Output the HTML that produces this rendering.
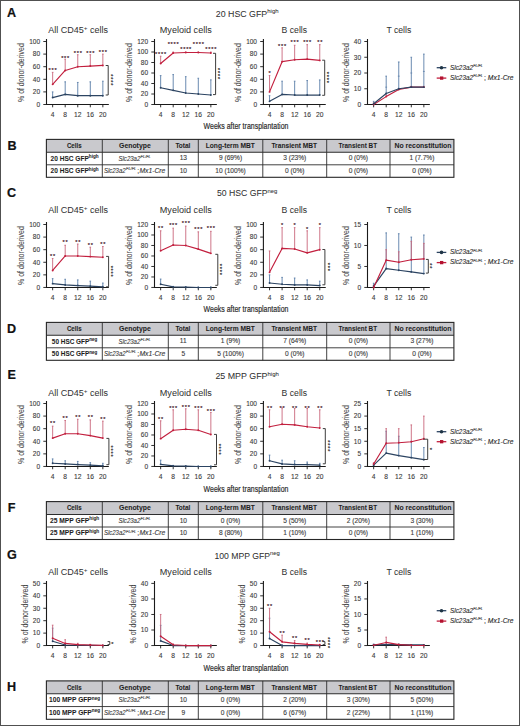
<!DOCTYPE html><html><head><meta charset="utf-8"><style>html,body{margin:0;padding:0;background:#fff;width:520px;height:726px;overflow:hidden;}svg{display:block;}text{font-family:"Liberation Sans",sans-serif;}</style></head><body>
<svg width="520" height="726" viewBox="0 0 520 726">
<rect x="0" y="0" width="520" height="726" fill="#fff"/>
<rect x="0.5" y="0.5" width="519" height="725" fill="none" stroke="#505050" stroke-width="1"/>
<text x="6.9" y="17.1" font-size="12.6" font-weight="bold" fill="#111" stroke="#111" stroke-width="0.2">A</text>
<text x="215.8" y="16.9" font-size="9.1" fill="#303030" stroke="#303030" stroke-width="0.04" textLength="62.8" lengthAdjust="spacingAndGlyphs">20 HSC GFP<tspan font-size="6.2" dy="-3.5">high</tspan></text>
<text x="48.2" y="33" font-size="8.3" fill="#333" stroke="#333" stroke-width="0.03" textLength="59.8" lengthAdjust="spacingAndGlyphs">All CD45<tspan font-size="5.8" dy="-2.7">+</tspan><tspan dy="2.7"> cells</tspan></text>
<text transform="translate(24.15,72.6) rotate(-90)" font-size="8.4" text-anchor="middle" fill="#444" stroke="#444" stroke-width="0.05" textLength="58.8" lengthAdjust="spacingAndGlyphs">% of donor-derived</text>
<path d="M46.5 39.1V104.5H108.85" fill="none" stroke="#1a1a1a" stroke-width="1.1"/>
<text x="40.1" y="106.8" font-size="6.5" text-anchor="end" fill="#3a3a3a" stroke="#3a3a3a" stroke-width="0.1">0</text>
<text x="40.1" y="94.2" font-size="6.5" text-anchor="end" fill="#3a3a3a" stroke="#3a3a3a" stroke-width="0.1">20</text>
<text x="40.1" y="81.6" font-size="6.5" text-anchor="end" fill="#3a3a3a" stroke="#3a3a3a" stroke-width="0.1">40</text>
<text x="40.1" y="69" font-size="6.5" text-anchor="end" fill="#3a3a3a" stroke="#3a3a3a" stroke-width="0.1">60</text>
<text x="40.1" y="56.4" font-size="6.5" text-anchor="end" fill="#3a3a3a" stroke="#3a3a3a" stroke-width="0.1">80</text>
<text x="40.1" y="43.8" font-size="6.5" text-anchor="end" fill="#3a3a3a" stroke="#3a3a3a" stroke-width="0.1">100</text>
<path d="M43.3 104.5H46.5 M43.3 91.9H46.5 M43.3 79.3H46.5 M43.3 66.7H46.5 M43.3 54.1H46.5 M43.3 41.5H46.5 M52.65 104.5v2.8 M65.2 104.5v2.8 M77.75 104.5v2.8 M90.3 104.5v2.8 M102.85 104.5v2.8" stroke="#1a1a1a" stroke-width="0.9" fill="none"/>
<text x="52.65" y="116.6" font-size="6.7" text-anchor="middle" fill="#3a3a3a" stroke="#3a3a3a" stroke-width="0.1">4</text>
<text x="65.2" y="116.6" font-size="6.7" text-anchor="middle" fill="#3a3a3a" stroke="#3a3a3a" stroke-width="0.1">8</text>
<text x="77.75" y="116.6" font-size="6.7" text-anchor="middle" fill="#3a3a3a" stroke="#3a3a3a" stroke-width="0.1">12</text>
<text x="90.3" y="116.6" font-size="6.7" text-anchor="middle" fill="#3a3a3a" stroke="#3a3a3a" stroke-width="0.1">16</text>
<text x="102.85" y="116.6" font-size="6.7" text-anchor="middle" fill="#3a3a3a" stroke="#3a3a3a" stroke-width="0.1">20</text>
<path d="M52.65 97.57V91.9M51.85 91.9h1.6 M65.2 94.42V81.82M64.4 81.82h1.6 M77.75 95.68V82.45M76.95 82.45h1.6 M90.3 95.68V81.82M89.5 81.82h1.6 M102.85 95.68V81.19M102.05 81.19h1.6" stroke="#5a7ea8" stroke-width="0.9" fill="none"/>
<path d="M52.65 84.34V72.37M51.85 72.37h1.6 M65.2 70.48V59.14M64.4 59.14h1.6 M77.75 66.7V54.73M76.95 54.73h1.6 M90.3 66.07V54.73M89.5 54.73h1.6 M102.85 65.44V54.1M102.05 54.1h1.6" stroke="#c9677c" stroke-width="0.9" fill="none"/>
<polyline points="52.65,97.57 65.2,94.42 77.75,95.68 90.3,95.68 102.85,95.68" fill="none" stroke="#2c4462" stroke-width="1.15" stroke-linejoin="round"/>
<circle cx="52.65" cy="97.57" r="0.95" fill="#2c4462"/>
<circle cx="65.2" cy="94.42" r="0.95" fill="#2c4462"/>
<circle cx="77.75" cy="95.68" r="0.95" fill="#2c4462"/>
<circle cx="90.3" cy="95.68" r="0.95" fill="#2c4462"/>
<circle cx="102.85" cy="95.68" r="0.95" fill="#2c4462"/>
<polyline points="52.65,84.34 65.2,70.48 77.75,66.7 90.3,66.07 102.85,65.44" fill="none" stroke="#c21f3e" stroke-width="1.15" stroke-linejoin="round"/>
<circle cx="52.65" cy="84.34" r="0.95" fill="#c21f3e"/>
<circle cx="65.2" cy="70.48" r="0.95" fill="#c21f3e"/>
<circle cx="77.75" cy="66.7" r="0.95" fill="#c21f3e"/>
<circle cx="90.3" cy="66.07" r="0.95" fill="#c21f3e"/>
<circle cx="102.85" cy="65.44" r="0.95" fill="#c21f3e"/>
<text x="53.05" y="71.87" font-size="5.6" text-anchor="middle" fill="#4a2430" letter-spacing="0.8" stroke="#4a2430" stroke-width="0.2">***</text>
<text x="65.6" y="59.65" font-size="5.6" text-anchor="middle" fill="#4a2430" letter-spacing="0.8" stroke="#4a2430" stroke-width="0.2">***</text>
<text x="78.15" y="54.92" font-size="5.6" text-anchor="middle" fill="#4a2430" letter-spacing="0.8" stroke="#4a2430" stroke-width="0.2">***</text>
<text x="90.7" y="54.92" font-size="5.6" text-anchor="middle" fill="#4a2430" letter-spacing="0.8" stroke="#4a2430" stroke-width="0.2">***</text>
<text x="103.25" y="54.04" font-size="5.6" text-anchor="middle" fill="#4a2430" letter-spacing="0.8" stroke="#4a2430" stroke-width="0.2">***</text>
<path d="M105.7 65.5H108.2V95H105.7" fill="none" stroke="#333" stroke-width="0.95"/>
<text transform="translate(108.7,80.25) rotate(90)" font-size="5.6" text-anchor="middle" fill="#333" letter-spacing="0.8" stroke="#333" stroke-width="0.2">****</text>
<text x="159.8" y="33" font-size="8.3" fill="#333" stroke="#333" stroke-width="0.03" textLength="52" lengthAdjust="spacingAndGlyphs">Myeloid cells</text>
<text transform="translate(132.15,72.6) rotate(-90)" font-size="8.4" text-anchor="middle" fill="#444" stroke="#444" stroke-width="0.05" textLength="58.8" lengthAdjust="spacingAndGlyphs">% of donor-derived</text>
<path d="M154.5 39.1V104.5H216.85" fill="none" stroke="#1a1a1a" stroke-width="1.1"/>
<text x="148.1" y="106.8" font-size="6.5" text-anchor="end" fill="#3a3a3a" stroke="#3a3a3a" stroke-width="0.1">0</text>
<text x="148.1" y="96.3" font-size="6.5" text-anchor="end" fill="#3a3a3a" stroke="#3a3a3a" stroke-width="0.1">20</text>
<text x="148.1" y="85.8" font-size="6.5" text-anchor="end" fill="#3a3a3a" stroke="#3a3a3a" stroke-width="0.1">40</text>
<text x="148.1" y="75.3" font-size="6.5" text-anchor="end" fill="#3a3a3a" stroke="#3a3a3a" stroke-width="0.1">60</text>
<text x="148.1" y="64.8" font-size="6.5" text-anchor="end" fill="#3a3a3a" stroke="#3a3a3a" stroke-width="0.1">80</text>
<text x="148.1" y="54.3" font-size="6.5" text-anchor="end" fill="#3a3a3a" stroke="#3a3a3a" stroke-width="0.1">100</text>
<text x="148.1" y="43.8" font-size="6.5" text-anchor="end" fill="#3a3a3a" stroke="#3a3a3a" stroke-width="0.1">120</text>
<path d="M151.3 104.5H154.5 M151.3 94H154.5 M151.3 83.5H154.5 M151.3 73H154.5 M151.3 62.5H154.5 M151.3 52H154.5 M151.3 41.5H154.5 M160.65 104.5v2.8 M173.2 104.5v2.8 M185.75 104.5v2.8 M198.3 104.5v2.8 M210.85 104.5v2.8" stroke="#1a1a1a" stroke-width="0.9" fill="none"/>
<text x="160.65" y="116.6" font-size="6.7" text-anchor="middle" fill="#3a3a3a" stroke="#3a3a3a" stroke-width="0.1">4</text>
<text x="173.2" y="116.6" font-size="6.7" text-anchor="middle" fill="#3a3a3a" stroke="#3a3a3a" stroke-width="0.1">8</text>
<text x="185.75" y="116.6" font-size="6.7" text-anchor="middle" fill="#3a3a3a" stroke="#3a3a3a" stroke-width="0.1">12</text>
<text x="198.3" y="116.6" font-size="6.7" text-anchor="middle" fill="#3a3a3a" stroke="#3a3a3a" stroke-width="0.1">16</text>
<text x="210.85" y="116.6" font-size="6.7" text-anchor="middle" fill="#3a3a3a" stroke="#3a3a3a" stroke-width="0.1">20</text>
<path d="M160.65 87.7V75.62M159.85 75.62h1.6 M173.2 90.33V74.58M172.4 74.58h1.6 M185.75 92.95V76.67M184.95 76.67h1.6 M198.3 94V78.25M197.5 78.25h1.6 M210.85 95.05V79.83M210.05 79.83h1.6" stroke="#5a7ea8" stroke-width="0.9" fill="none"/>
<path d="M160.65 63.55V56.2M159.85 56.2h1.6 M173.2 53.05V52M172.4 52h1.6 M185.75 52.52V52M184.95 52h1.6 M198.3 52.52V52M197.5 52h1.6 M210.85 53.05V52M210.05 52h1.6" stroke="#c9677c" stroke-width="0.9" fill="none"/>
<polyline points="160.65,87.7 173.2,90.33 185.75,92.95 198.3,94 210.85,95.05" fill="none" stroke="#2c4462" stroke-width="1.15" stroke-linejoin="round"/>
<circle cx="160.65" cy="87.7" r="0.95" fill="#2c4462"/>
<circle cx="173.2" cy="90.33" r="0.95" fill="#2c4462"/>
<circle cx="185.75" cy="92.95" r="0.95" fill="#2c4462"/>
<circle cx="198.3" cy="94" r="0.95" fill="#2c4462"/>
<circle cx="210.85" cy="95.05" r="0.95" fill="#2c4462"/>
<polyline points="160.65,63.55 173.2,53.05 185.75,52.52 198.3,52.52 210.85,53.05" fill="none" stroke="#c21f3e" stroke-width="1.15" stroke-linejoin="round"/>
<circle cx="160.65" cy="63.55" r="0.95" fill="#c21f3e"/>
<circle cx="173.2" cy="53.05" r="0.95" fill="#c21f3e"/>
<circle cx="185.75" cy="52.52" r="0.95" fill="#c21f3e"/>
<circle cx="198.3" cy="52.52" r="0.95" fill="#c21f3e"/>
<circle cx="210.85" cy="53.05" r="0.95" fill="#c21f3e"/>
<text x="161.05" y="55.53" font-size="5.6" text-anchor="middle" fill="#4a2430" letter-spacing="0.8" stroke="#4a2430" stroke-width="0.2">****</text>
<text x="173.6" y="46.19" font-size="5.6" text-anchor="middle" fill="#4a2430" letter-spacing="0.8" stroke="#4a2430" stroke-width="0.2">****</text>
<text x="186.15" y="51.22" font-size="5.6" text-anchor="middle" fill="#4a2430" letter-spacing="0.8" stroke="#4a2430" stroke-width="0.2">****</text>
<text x="198.7" y="46.19" font-size="5.6" text-anchor="middle" fill="#4a2430" letter-spacing="0.8" stroke="#4a2430" stroke-width="0.2">****</text>
<text x="211.25" y="51.22" font-size="5.6" text-anchor="middle" fill="#4a2430" letter-spacing="0.8" stroke="#4a2430" stroke-width="0.2">****</text>
<path d="M213 53.3H215.6V94.6H213" fill="none" stroke="#333" stroke-width="0.95"/>
<text transform="translate(216,73.95) rotate(90)" font-size="5.6" text-anchor="middle" fill="#333" letter-spacing="0.8" stroke="#333" stroke-width="0.2">****</text>
<text x="281.6" y="33" font-size="8.3" fill="#333" stroke="#333" stroke-width="0.03" textLength="25.5" lengthAdjust="spacingAndGlyphs">B cells</text>
<text transform="translate(241.05,72.6) rotate(-90)" font-size="8.4" text-anchor="middle" fill="#444" stroke="#444" stroke-width="0.05" textLength="58.8" lengthAdjust="spacingAndGlyphs">% of donor-derived</text>
<path d="M263.4 39.1V104.5H325.75" fill="none" stroke="#1a1a1a" stroke-width="1.1"/>
<text x="257" y="106.8" font-size="6.5" text-anchor="end" fill="#3a3a3a" stroke="#3a3a3a" stroke-width="0.1">0</text>
<text x="257" y="94.2" font-size="6.5" text-anchor="end" fill="#3a3a3a" stroke="#3a3a3a" stroke-width="0.1">20</text>
<text x="257" y="81.6" font-size="6.5" text-anchor="end" fill="#3a3a3a" stroke="#3a3a3a" stroke-width="0.1">40</text>
<text x="257" y="69" font-size="6.5" text-anchor="end" fill="#3a3a3a" stroke="#3a3a3a" stroke-width="0.1">60</text>
<text x="257" y="56.4" font-size="6.5" text-anchor="end" fill="#3a3a3a" stroke="#3a3a3a" stroke-width="0.1">80</text>
<text x="257" y="43.8" font-size="6.5" text-anchor="end" fill="#3a3a3a" stroke="#3a3a3a" stroke-width="0.1">100</text>
<path d="M260.2 104.5H263.4 M260.2 91.9H263.4 M260.2 79.3H263.4 M260.2 66.7H263.4 M260.2 54.1H263.4 M260.2 41.5H263.4 M269.55 104.5v2.8 M282.1 104.5v2.8 M294.65 104.5v2.8 M307.2 104.5v2.8 M319.75 104.5v2.8" stroke="#1a1a1a" stroke-width="0.9" fill="none"/>
<text x="269.55" y="116.6" font-size="6.7" text-anchor="middle" fill="#3a3a3a" stroke="#3a3a3a" stroke-width="0.1">4</text>
<text x="282.1" y="116.6" font-size="6.7" text-anchor="middle" fill="#3a3a3a" stroke="#3a3a3a" stroke-width="0.1">8</text>
<text x="294.65" y="116.6" font-size="6.7" text-anchor="middle" fill="#3a3a3a" stroke="#3a3a3a" stroke-width="0.1">12</text>
<text x="307.2" y="116.6" font-size="6.7" text-anchor="middle" fill="#3a3a3a" stroke="#3a3a3a" stroke-width="0.1">16</text>
<text x="319.75" y="116.6" font-size="6.7" text-anchor="middle" fill="#3a3a3a" stroke="#3a3a3a" stroke-width="0.1">20</text>
<path d="M269.55 101.35V95.68M268.75 95.68h1.6 M282.1 94.42V81.19M281.3 81.19h1.6 M294.65 95.05V81.19M293.85 81.19h1.6 M307.2 95.05V80.56M306.4 80.56h1.6 M319.75 95.05V79.93M318.95 79.93h1.6" stroke="#5a7ea8" stroke-width="0.9" fill="none"/>
<path d="M269.55 91.9V75.52M268.75 75.52h1.6 M282.1 61.66V47.8M281.3 47.8h1.6 M294.65 59.77V45.28M293.85 45.28h1.6 M307.2 59.14V44.65M306.4 44.65h1.6 M319.75 60.4V44.65M318.95 44.65h1.6" stroke="#c9677c" stroke-width="0.9" fill="none"/>
<polyline points="269.55,101.35 282.1,94.42 294.65,95.05 307.2,95.05 319.75,95.05" fill="none" stroke="#2c4462" stroke-width="1.15" stroke-linejoin="round"/>
<circle cx="269.55" cy="101.35" r="0.95" fill="#2c4462"/>
<circle cx="282.1" cy="94.42" r="0.95" fill="#2c4462"/>
<circle cx="294.65" cy="95.05" r="0.95" fill="#2c4462"/>
<circle cx="307.2" cy="95.05" r="0.95" fill="#2c4462"/>
<circle cx="319.75" cy="95.05" r="0.95" fill="#2c4462"/>
<polyline points="269.55,91.9 282.1,61.66 294.65,59.77 307.2,59.14 319.75,60.4" fill="none" stroke="#c21f3e" stroke-width="1.15" stroke-linejoin="round"/>
<circle cx="269.55" cy="91.9" r="0.95" fill="#c21f3e"/>
<circle cx="282.1" cy="61.66" r="0.95" fill="#c21f3e"/>
<circle cx="294.65" cy="59.77" r="0.95" fill="#c21f3e"/>
<circle cx="307.2" cy="59.14" r="0.95" fill="#c21f3e"/>
<circle cx="319.75" cy="60.4" r="0.95" fill="#c21f3e"/>
<text x="269.95" y="74.64" font-size="5.6" text-anchor="middle" fill="#4a2430" letter-spacing="0.8" stroke="#4a2430" stroke-width="0.2">*</text>
<text x="282.5" y="47.99" font-size="5.6" text-anchor="middle" fill="#4a2430" letter-spacing="0.8" stroke="#4a2430" stroke-width="0.2">***</text>
<text x="295.05" y="44.4" font-size="5.6" text-anchor="middle" fill="#4a2430" letter-spacing="0.8" stroke="#4a2430" stroke-width="0.2">***</text>
<text x="307.6" y="44.4" font-size="5.6" text-anchor="middle" fill="#4a2430" letter-spacing="0.8" stroke="#4a2430" stroke-width="0.2">***</text>
<text x="320.15" y="44.4" font-size="5.6" text-anchor="middle" fill="#4a2430" letter-spacing="0.8" stroke="#4a2430" stroke-width="0.2">**</text>
<path d="M322.2 60.2H324.7V95.3H322.2" fill="none" stroke="#333" stroke-width="0.95"/>
<text transform="translate(325.2,77.75) rotate(90)" font-size="5.6" text-anchor="middle" fill="#333" letter-spacing="0.8" stroke="#333" stroke-width="0.2">****</text>
<text x="386.4" y="33" font-size="8.3" fill="#333" stroke="#333" stroke-width="0.03" textLength="24.9" lengthAdjust="spacingAndGlyphs">T cells</text>
<text transform="translate(348.6,72.6) rotate(-90)" font-size="8.4" text-anchor="middle" fill="#444" stroke="#444" stroke-width="0.05" textLength="58.8" lengthAdjust="spacingAndGlyphs">% of donor-derived</text>
<path d="M367.5 39.1V104.5H429.85" fill="none" stroke="#1a1a1a" stroke-width="1.1"/>
<text x="361.1" y="106.8" font-size="6.5" text-anchor="end" fill="#3a3a3a" stroke="#3a3a3a" stroke-width="0.1">0</text>
<text x="361.1" y="91.05" font-size="6.5" text-anchor="end" fill="#3a3a3a" stroke="#3a3a3a" stroke-width="0.1">10</text>
<text x="361.1" y="75.3" font-size="6.5" text-anchor="end" fill="#3a3a3a" stroke="#3a3a3a" stroke-width="0.1">20</text>
<text x="361.1" y="59.55" font-size="6.5" text-anchor="end" fill="#3a3a3a" stroke="#3a3a3a" stroke-width="0.1">30</text>
<text x="361.1" y="43.8" font-size="6.5" text-anchor="end" fill="#3a3a3a" stroke="#3a3a3a" stroke-width="0.1">40</text>
<path d="M364.3 104.5H367.5 M364.3 88.75H367.5 M364.3 73H367.5 M364.3 57.25H367.5 M364.3 41.5H367.5 M373.65 104.5v2.8 M386.2 104.5v2.8 M398.75 104.5v2.8 M411.3 104.5v2.8 M423.85 104.5v2.8" stroke="#1a1a1a" stroke-width="0.9" fill="none"/>
<text x="373.65" y="116.6" font-size="6.7" text-anchor="middle" fill="#3a3a3a" stroke="#3a3a3a" stroke-width="0.1">4</text>
<text x="386.2" y="116.6" font-size="6.7" text-anchor="middle" fill="#3a3a3a" stroke="#3a3a3a" stroke-width="0.1">8</text>
<text x="398.75" y="116.6" font-size="6.7" text-anchor="middle" fill="#3a3a3a" stroke="#3a3a3a" stroke-width="0.1">12</text>
<text x="411.3" y="116.6" font-size="6.7" text-anchor="middle" fill="#3a3a3a" stroke="#3a3a3a" stroke-width="0.1">16</text>
<text x="423.85" y="116.6" font-size="6.7" text-anchor="middle" fill="#3a3a3a" stroke="#3a3a3a" stroke-width="0.1">20</text>
<path d="M373.65 103.71V101.35M372.85 101.35h1.6 M386.2 93.47V76.15M385.4 76.15h1.6 M398.75 88.75V61.98M397.95 61.98h1.6 M411.3 87.17V57.25M410.5 57.25h1.6 M423.85 87.17V54.1M423.05 54.1h1.6" stroke="#5a7ea8" stroke-width="0.9" fill="none"/>
<path d="M373.65 104.5V102.92M372.85 102.92h1.6 M386.2 96.62V95.05M385.4 95.05h1.6 M398.75 89.54V88.75M397.95 88.75h1.6 M411.3 87.17V86.39M410.5 86.39h1.6 M423.85 87.17V86.39M423.05 86.39h1.6" stroke="#c9677c" stroke-width="0.9" fill="none"/>
<path d="M385.3 87.17h1.8" stroke="#5a7ea8" stroke-width="0.8"/>
<path d="M397.85 76.15h1.8" stroke="#5a7ea8" stroke-width="0.8"/>
<path d="M410.4 73h1.8" stroke="#5a7ea8" stroke-width="0.8"/>
<path d="M422.95 71.43h1.8" stroke="#5a7ea8" stroke-width="0.8"/>
<polyline points="373.65,104.5 386.2,96.62 398.75,89.54 411.3,87.17 423.85,87.17" fill="none" stroke="#c21f3e" stroke-width="1.15" stroke-linejoin="round"/>
<circle cx="373.65" cy="104.5" r="0.95" fill="#c21f3e"/>
<circle cx="386.2" cy="96.62" r="0.95" fill="#c21f3e"/>
<circle cx="398.75" cy="89.54" r="0.95" fill="#c21f3e"/>
<circle cx="411.3" cy="87.17" r="0.95" fill="#c21f3e"/>
<circle cx="423.85" cy="87.17" r="0.95" fill="#c21f3e"/>
<polyline points="373.65,103.71 386.2,93.47 398.75,88.75 411.3,87.17 423.85,87.17" fill="none" stroke="#2c4462" stroke-width="1.15" stroke-linejoin="round"/>
<circle cx="373.65" cy="103.71" r="0.95" fill="#2c4462"/>
<circle cx="386.2" cy="93.47" r="0.95" fill="#2c4462"/>
<circle cx="398.75" cy="88.75" r="0.95" fill="#2c4462"/>
<circle cx="411.3" cy="87.17" r="0.95" fill="#2c4462"/>
<circle cx="423.85" cy="87.17" r="0.95" fill="#2c4462"/>
<path d="M436.7 67.7h9.6" stroke="#2c4462" stroke-width="1.3"/>
<circle cx="441.5" cy="67.7" r="1.8" fill="#1f3546"/>
<path d="M436.7 78.1h9.6" stroke="#c21f3e" stroke-width="1.3"/>
<rect x="440" y="76.45" width="3.3" height="3.3" fill="#b3122f"/>
<text x="450" y="69.7" font-size="6.9" font-style="italic" fill="#2b2b2b" stroke="#2b2b2b" stroke-width="0.12" textLength="23" lengthAdjust="spacingAndGlyphs">Slc23a2</text>
<text x="473.3" y="66.8" font-size="3.8" font-style="italic" fill="#2b2b2b" stroke="#2b2b2b" stroke-width="0.12" textLength="9.6" lengthAdjust="spacingAndGlyphs">FL/FL</text>
<text x="450" y="79.9" font-size="6.9" font-style="italic" fill="#2b2b2b" stroke="#2b2b2b" stroke-width="0.12" textLength="23" lengthAdjust="spacingAndGlyphs">Slc23a2</text>
<text x="473.3" y="77" font-size="3.8" font-style="italic" fill="#2b2b2b" stroke="#2b2b2b" stroke-width="0.12" textLength="9.6" lengthAdjust="spacingAndGlyphs">FL/FL</text>
<text x="484" y="79.9" font-size="6.9" fill="#2b2b2b" stroke="#2b2b2b" stroke-width="0.12">;</text>
<text x="487.8" y="79.9" font-size="6.9" font-style="italic" fill="#2b2b2b" stroke="#2b2b2b" stroke-width="0.12" textLength="25.8" lengthAdjust="spacingAndGlyphs">Mx1-Cre</text>
<text x="203.6" y="129" font-size="9.5" fill="#2b2b2b" textLength="84.8" lengthAdjust="spacingAndGlyphs" stroke="#2b2b2b" stroke-width="0.2">Weeks after transplantation</text>
<text x="7.5" y="149.8" font-size="12.6" font-weight="bold" fill="#111" stroke="#111" stroke-width="0.2">B</text>
<rect x="46.4" y="139.4" width="407.5" height="12.9" fill="#c9c9cd"/>
<path d="M46.4 164.8H453.9 M102.3 139.4V177.3 M168.3 139.4V177.3 M198.3 139.4V177.3 M262.8 139.4V177.3 M326.7 139.4V177.3 M390 139.4V177.3" stroke="#2e2e2e" stroke-width="0.9" fill="none"/>
<path d="M46.4 152.3H453.9" stroke="#2e2e2e" stroke-width="1.1" fill="none"/>
<rect x="46.4" y="139.4" width="407.5" height="37.9" fill="none" stroke="#262626" stroke-width="1.1"/>
<text x="74.3" y="148" font-size="6.6" text-anchor="middle" font-weight="bold" fill="#1e1e1e" textLength="14.8" lengthAdjust="spacingAndGlyphs" stroke="#1e1e1e" stroke-width="0.05">Cells</text>
<text x="134.9" y="148" font-size="6.6" text-anchor="middle" font-weight="bold" fill="#1e1e1e" textLength="31.7" lengthAdjust="spacingAndGlyphs" stroke="#1e1e1e" stroke-width="0.05">Genotype</text>
<text x="182.9" y="148" font-size="6.6" text-anchor="middle" font-weight="bold" fill="#1e1e1e" textLength="15" lengthAdjust="spacingAndGlyphs" stroke="#1e1e1e" stroke-width="0.05">Total</text>
<text x="230.3" y="148" font-size="6.6" text-anchor="middle" font-weight="bold" fill="#1e1e1e" textLength="49.1" lengthAdjust="spacingAndGlyphs" stroke="#1e1e1e" stroke-width="0.05">Long-term MBT</text>
<text x="294.3" y="148" font-size="6.6" text-anchor="middle" font-weight="bold" fill="#1e1e1e" textLength="45.7" lengthAdjust="spacingAndGlyphs" stroke="#1e1e1e" stroke-width="0.05">Transient MBT</text>
<text x="357.8" y="148" font-size="6.6" text-anchor="middle" font-weight="bold" fill="#1e1e1e" textLength="38.6" lengthAdjust="spacingAndGlyphs" stroke="#1e1e1e" stroke-width="0.05">Transient BT</text>
<text x="423" y="148" font-size="6.6" text-anchor="middle" font-weight="bold" fill="#1e1e1e" textLength="57.1" lengthAdjust="spacingAndGlyphs" stroke="#1e1e1e" stroke-width="0.05">No reconstitution</text>
<text x="74.6" y="160.7" font-size="7.1" font-weight="bold" text-anchor="middle" fill="#1e1e1e" stroke="#1e1e1e" stroke-width="0.05" textLength="48" lengthAdjust="spacingAndGlyphs">20 HSC GFP<tspan font-size="5" dy="-2.7">high</tspan></text>
<text x="118.5" y="160.7" font-size="6.9" font-style="italic" fill="#3a3a3a" stroke="#3a3a3a" stroke-width="0.12" textLength="21.8" lengthAdjust="spacingAndGlyphs">Slc23a2</text>
<text x="140.6" y="157.8" font-size="3.8" font-style="italic" fill="#3a3a3a" stroke="#3a3a3a" stroke-width="0.12" textLength="10.2" lengthAdjust="spacingAndGlyphs">FL/FL</text>
<text x="183.3" y="160.3" font-size="6.6" text-anchor="middle" fill="#3c3c3c" stroke="#3c3c3c" stroke-width="0.12">13</text>
<text x="230.55" y="160.3" font-size="6.6" text-anchor="middle" fill="#3c3c3c" stroke="#3c3c3c" stroke-width="0.12">9 (69%)</text>
<text x="294.75" y="160.3" font-size="6.6" text-anchor="middle" fill="#3c3c3c" stroke="#3c3c3c" stroke-width="0.12">3 (23%)</text>
<text x="358.35" y="160.3" font-size="6.6" text-anchor="middle" fill="#3c3c3c" stroke="#3c3c3c" stroke-width="0.12">0 (0%)</text>
<text x="421.95" y="160.3" font-size="6.6" text-anchor="middle" fill="#3c3c3c" stroke="#3c3c3c" stroke-width="0.12">1 (7.7%)</text>
<text x="74.6" y="173.2" font-size="7.1" font-weight="bold" text-anchor="middle" fill="#1e1e1e" stroke="#1e1e1e" stroke-width="0.05" textLength="48" lengthAdjust="spacingAndGlyphs">20 HSC GFP<tspan font-size="5" dy="-2.7">high</tspan></text>
<text x="103.9" y="173.2" font-size="6.9" font-style="italic" fill="#3a3a3a" stroke="#3a3a3a" stroke-width="0.12" textLength="21.8" lengthAdjust="spacingAndGlyphs">Slc23a2</text>
<text x="126" y="170.3" font-size="3.8" font-style="italic" fill="#3a3a3a" stroke="#3a3a3a" stroke-width="0.12" textLength="10.2" lengthAdjust="spacingAndGlyphs">FL/FL</text>
<text x="137.2" y="173.2" font-size="6.9" fill="#3a3a3a" stroke="#3a3a3a" stroke-width="0.12">;</text>
<text x="139.4" y="173.2" font-size="6.9" font-style="italic" fill="#3a3a3a" stroke="#3a3a3a" stroke-width="0.12" textLength="26" lengthAdjust="spacingAndGlyphs">Mx1-Cre</text>
<text x="183.3" y="172.8" font-size="6.6" text-anchor="middle" fill="#3c3c3c" stroke="#3c3c3c" stroke-width="0.12">10</text>
<text x="230.55" y="172.8" font-size="6.6" text-anchor="middle" fill="#3c3c3c" stroke="#3c3c3c" stroke-width="0.12">10 (100%)</text>
<text x="294.75" y="172.8" font-size="6.6" text-anchor="middle" fill="#3c3c3c" stroke="#3c3c3c" stroke-width="0.12">0 (0%)</text>
<text x="358.35" y="172.8" font-size="6.6" text-anchor="middle" fill="#3c3c3c" stroke="#3c3c3c" stroke-width="0.12">0 (0%)</text>
<text x="421.95" y="172.8" font-size="6.6" text-anchor="middle" fill="#3c3c3c" stroke="#3c3c3c" stroke-width="0.12">0 (0%)</text>
<text x="7" y="196.5" font-size="12.6" font-weight="bold" fill="#111" stroke="#111" stroke-width="0.2">C</text>
<text x="216.9" y="196.3" font-size="9.1" fill="#303030" stroke="#303030" stroke-width="0.04" textLength="60.5" lengthAdjust="spacingAndGlyphs">50 HSC GFP<tspan font-size="6.2" dy="-3.5">neg</tspan></text>
<text x="48.2" y="212.5" font-size="8.3" fill="#333" stroke="#333" stroke-width="0.03" textLength="59.8" lengthAdjust="spacingAndGlyphs">All CD45<tspan font-size="5.8" dy="-2.7">+</tspan><tspan dy="2.7"> cells</tspan></text>
<text transform="translate(24.15,255.57) rotate(-90)" font-size="8.4" text-anchor="middle" fill="#444" stroke="#444" stroke-width="0.05" textLength="58.8" lengthAdjust="spacingAndGlyphs">% of donor-derived</text>
<path d="M46.5 222.1V287.45H108.85" fill="none" stroke="#1a1a1a" stroke-width="1.1"/>
<text x="40.1" y="289.75" font-size="6.5" text-anchor="end" fill="#3a3a3a" stroke="#3a3a3a" stroke-width="0.1">0</text>
<text x="40.1" y="277.16" font-size="6.5" text-anchor="end" fill="#3a3a3a" stroke="#3a3a3a" stroke-width="0.1">20</text>
<text x="40.1" y="264.57" font-size="6.5" text-anchor="end" fill="#3a3a3a" stroke="#3a3a3a" stroke-width="0.1">40</text>
<text x="40.1" y="251.98" font-size="6.5" text-anchor="end" fill="#3a3a3a" stroke="#3a3a3a" stroke-width="0.1">60</text>
<text x="40.1" y="239.39" font-size="6.5" text-anchor="end" fill="#3a3a3a" stroke="#3a3a3a" stroke-width="0.1">80</text>
<text x="40.1" y="226.8" font-size="6.5" text-anchor="end" fill="#3a3a3a" stroke="#3a3a3a" stroke-width="0.1">100</text>
<path d="M43.3 287.45H46.5 M43.3 274.86H46.5 M43.3 262.27H46.5 M43.3 249.68H46.5 M43.3 237.09H46.5 M43.3 224.5H46.5 M52.65 287.45v2.8 M65.2 287.45v2.8 M77.75 287.45v2.8 M90.3 287.45v2.8 M102.85 287.45v2.8" stroke="#1a1a1a" stroke-width="0.9" fill="none"/>
<text x="52.65" y="299.55" font-size="6.7" text-anchor="middle" fill="#3a3a3a" stroke="#3a3a3a" stroke-width="0.1">4</text>
<text x="65.2" y="299.55" font-size="6.7" text-anchor="middle" fill="#3a3a3a" stroke="#3a3a3a" stroke-width="0.1">8</text>
<text x="77.75" y="299.55" font-size="6.7" text-anchor="middle" fill="#3a3a3a" stroke="#3a3a3a" stroke-width="0.1">12</text>
<text x="90.3" y="299.55" font-size="6.7" text-anchor="middle" fill="#3a3a3a" stroke="#3a3a3a" stroke-width="0.1">16</text>
<text x="102.85" y="299.55" font-size="6.7" text-anchor="middle" fill="#3a3a3a" stroke="#3a3a3a" stroke-width="0.1">20</text>
<path d="M52.65 283.67V278.64M51.85 278.64h1.6 M65.2 284.93V279.27M64.4 279.27h1.6 M77.75 285.56V279.9M76.95 279.9h1.6 M90.3 286.19V281.15M89.5 281.15h1.6 M102.85 286.82V283.04M102.05 283.04h1.6" stroke="#5a7ea8" stroke-width="0.9" fill="none"/>
<path d="M52.65 270.45V258.49M51.85 258.49h1.6 M65.2 255.97V245.27M64.4 245.27h1.6 M77.75 255.97V244.01M76.95 244.01h1.6 M90.3 256.6V247.16M89.5 247.16h1.6 M102.85 257.23V246.53M102.05 246.53h1.6" stroke="#c9677c" stroke-width="0.9" fill="none"/>
<polyline points="52.65,283.67 65.2,284.93 77.75,285.56 90.3,286.19 102.85,286.82" fill="none" stroke="#2c4462" stroke-width="1.15" stroke-linejoin="round"/>
<circle cx="52.65" cy="283.67" r="0.95" fill="#2c4462"/>
<circle cx="65.2" cy="284.93" r="0.95" fill="#2c4462"/>
<circle cx="77.75" cy="285.56" r="0.95" fill="#2c4462"/>
<circle cx="90.3" cy="286.19" r="0.95" fill="#2c4462"/>
<circle cx="102.85" cy="286.82" r="0.95" fill="#2c4462"/>
<polyline points="52.65,270.45 65.2,255.97 77.75,255.97 90.3,256.6 102.85,257.23" fill="none" stroke="#c21f3e" stroke-width="1.15" stroke-linejoin="round"/>
<circle cx="52.65" cy="270.45" r="0.95" fill="#c21f3e"/>
<circle cx="65.2" cy="255.97" r="0.95" fill="#c21f3e"/>
<circle cx="77.75" cy="255.97" r="0.95" fill="#c21f3e"/>
<circle cx="90.3" cy="256.6" r="0.95" fill="#c21f3e"/>
<circle cx="102.85" cy="257.23" r="0.95" fill="#c21f3e"/>
<text x="53.05" y="258.25" font-size="5.6" text-anchor="middle" fill="#4a2430" letter-spacing="0.8" stroke="#4a2430" stroke-width="0.2">**</text>
<text x="65.6" y="244.4" font-size="5.6" text-anchor="middle" fill="#4a2430" letter-spacing="0.8" stroke="#4a2430" stroke-width="0.2">**</text>
<text x="78.15" y="243.89" font-size="5.6" text-anchor="middle" fill="#4a2430" letter-spacing="0.8" stroke="#4a2430" stroke-width="0.2">**</text>
<text x="90.7" y="246.91" font-size="5.6" text-anchor="middle" fill="#4a2430" letter-spacing="0.8" stroke="#4a2430" stroke-width="0.2">**</text>
<text x="103.25" y="246.41" font-size="5.6" text-anchor="middle" fill="#4a2430" letter-spacing="0.8" stroke="#4a2430" stroke-width="0.2">**</text>
<path d="M106.1 256.4H108.6V286.8H106.1" fill="none" stroke="#333" stroke-width="0.95"/>
<text transform="translate(108.8,271.6) rotate(90)" font-size="5.6" text-anchor="middle" fill="#333" letter-spacing="0.8" stroke="#333" stroke-width="0.2">****</text>
<text x="159.8" y="212.5" font-size="8.3" fill="#333" stroke="#333" stroke-width="0.03" textLength="52" lengthAdjust="spacingAndGlyphs">Myeloid cells</text>
<text transform="translate(132.15,255.57) rotate(-90)" font-size="8.4" text-anchor="middle" fill="#444" stroke="#444" stroke-width="0.05" textLength="58.8" lengthAdjust="spacingAndGlyphs">% of donor-derived</text>
<path d="M154.5 222.1V287.45H216.85" fill="none" stroke="#1a1a1a" stroke-width="1.1"/>
<text x="148.1" y="289.75" font-size="6.5" text-anchor="end" fill="#3a3a3a" stroke="#3a3a3a" stroke-width="0.1">0</text>
<text x="148.1" y="279.26" font-size="6.5" text-anchor="end" fill="#3a3a3a" stroke="#3a3a3a" stroke-width="0.1">20</text>
<text x="148.1" y="268.77" font-size="6.5" text-anchor="end" fill="#3a3a3a" stroke="#3a3a3a" stroke-width="0.1">40</text>
<text x="148.1" y="258.27" font-size="6.5" text-anchor="end" fill="#3a3a3a" stroke="#3a3a3a" stroke-width="0.1">60</text>
<text x="148.1" y="247.78" font-size="6.5" text-anchor="end" fill="#3a3a3a" stroke="#3a3a3a" stroke-width="0.1">80</text>
<text x="148.1" y="237.29" font-size="6.5" text-anchor="end" fill="#3a3a3a" stroke="#3a3a3a" stroke-width="0.1">100</text>
<text x="148.1" y="226.8" font-size="6.5" text-anchor="end" fill="#3a3a3a" stroke="#3a3a3a" stroke-width="0.1">120</text>
<path d="M151.3 287.45H154.5 M151.3 276.96H154.5 M151.3 266.47H154.5 M151.3 255.97H154.5 M151.3 245.48H154.5 M151.3 234.99H154.5 M151.3 224.5H154.5 M160.65 287.45v2.8 M173.2 287.45v2.8 M185.75 287.45v2.8 M198.3 287.45v2.8 M210.85 287.45v2.8" stroke="#1a1a1a" stroke-width="0.9" fill="none"/>
<text x="160.65" y="299.55" font-size="6.7" text-anchor="middle" fill="#3a3a3a" stroke="#3a3a3a" stroke-width="0.1">4</text>
<text x="173.2" y="299.55" font-size="6.7" text-anchor="middle" fill="#3a3a3a" stroke="#3a3a3a" stroke-width="0.1">8</text>
<text x="185.75" y="299.55" font-size="6.7" text-anchor="middle" fill="#3a3a3a" stroke="#3a3a3a" stroke-width="0.1">12</text>
<text x="198.3" y="299.55" font-size="6.7" text-anchor="middle" fill="#3a3a3a" stroke="#3a3a3a" stroke-width="0.1">16</text>
<text x="210.85" y="299.55" font-size="6.7" text-anchor="middle" fill="#3a3a3a" stroke="#3a3a3a" stroke-width="0.1">20</text>
<path d="M160.65 284.3V279.06M159.85 279.06h1.6 M173.2 286.93V286.4M172.4 286.4h1.6 M185.75 287.19V286.93M184.95 286.93h1.6 M198.3 287.45V287.19M197.5 287.19h1.6 M210.85 287.45V287.19M210.05 287.19h1.6" stroke="#5a7ea8" stroke-width="0.9" fill="none"/>
<path d="M160.65 250.73V230.79M159.85 230.79h1.6 M173.2 244.96V228.17M172.4 228.17h1.6 M185.75 245.48V226.07M184.95 226.07h1.6 M198.3 249.16V231.84M197.5 231.84h1.6 M210.85 253.35V231.32M210.05 231.32h1.6" stroke="#c9677c" stroke-width="0.9" fill="none"/>
<polyline points="160.65,284.3 173.2,286.93 185.75,287.19 198.3,287.45 210.85,287.45" fill="none" stroke="#2c4462" stroke-width="1.15" stroke-linejoin="round"/>
<circle cx="160.65" cy="284.3" r="0.95" fill="#2c4462"/>
<circle cx="173.2" cy="286.93" r="0.95" fill="#2c4462"/>
<circle cx="185.75" cy="287.19" r="0.95" fill="#2c4462"/>
<circle cx="198.3" cy="287.45" r="0.95" fill="#2c4462"/>
<circle cx="210.85" cy="287.45" r="0.95" fill="#2c4462"/>
<polyline points="160.65,250.73 173.2,244.96 185.75,245.48 198.3,249.16 210.85,253.35" fill="none" stroke="#c21f3e" stroke-width="1.15" stroke-linejoin="round"/>
<circle cx="160.65" cy="250.73" r="0.95" fill="#c21f3e"/>
<circle cx="173.2" cy="244.96" r="0.95" fill="#c21f3e"/>
<circle cx="185.75" cy="245.48" r="0.95" fill="#c21f3e"/>
<circle cx="198.3" cy="249.16" r="0.95" fill="#c21f3e"/>
<circle cx="210.85" cy="253.35" r="0.95" fill="#c21f3e"/>
<text x="161.05" y="230.02" font-size="5.6" text-anchor="middle" fill="#4a2430" letter-spacing="0.8" stroke="#4a2430" stroke-width="0.2">**</text>
<text x="173.6" y="227.4" font-size="5.6" text-anchor="middle" fill="#4a2430" letter-spacing="0.8" stroke="#4a2430" stroke-width="0.2">***</text>
<text x="186.15" y="224.88" font-size="5.6" text-anchor="middle" fill="#4a2430" letter-spacing="0.8" stroke="#4a2430" stroke-width="0.2">***</text>
<text x="198.7" y="231.18" font-size="5.6" text-anchor="middle" fill="#4a2430" letter-spacing="0.8" stroke="#4a2430" stroke-width="0.2">***</text>
<text x="211.25" y="230.02" font-size="5.6" text-anchor="middle" fill="#4a2430" letter-spacing="0.8" stroke="#4a2430" stroke-width="0.2">***</text>
<path d="M215.3 254.3H217.8V285.3H215.3" fill="none" stroke="#333" stroke-width="0.95"/>
<text transform="translate(218.1,269.8) rotate(90)" font-size="5.6" text-anchor="middle" fill="#333" letter-spacing="0.8" stroke="#333" stroke-width="0.2">****</text>
<text x="281.6" y="212.5" font-size="8.3" fill="#333" stroke="#333" stroke-width="0.03" textLength="25.5" lengthAdjust="spacingAndGlyphs">B cells</text>
<text transform="translate(241.05,255.57) rotate(-90)" font-size="8.4" text-anchor="middle" fill="#444" stroke="#444" stroke-width="0.05" textLength="58.8" lengthAdjust="spacingAndGlyphs">% of donor-derived</text>
<path d="M263.4 222.1V287.45H325.75" fill="none" stroke="#1a1a1a" stroke-width="1.1"/>
<text x="257" y="289.75" font-size="6.5" text-anchor="end" fill="#3a3a3a" stroke="#3a3a3a" stroke-width="0.1">0</text>
<text x="257" y="277.16" font-size="6.5" text-anchor="end" fill="#3a3a3a" stroke="#3a3a3a" stroke-width="0.1">20</text>
<text x="257" y="264.57" font-size="6.5" text-anchor="end" fill="#3a3a3a" stroke="#3a3a3a" stroke-width="0.1">40</text>
<text x="257" y="251.98" font-size="6.5" text-anchor="end" fill="#3a3a3a" stroke="#3a3a3a" stroke-width="0.1">60</text>
<text x="257" y="239.39" font-size="6.5" text-anchor="end" fill="#3a3a3a" stroke="#3a3a3a" stroke-width="0.1">80</text>
<text x="257" y="226.8" font-size="6.5" text-anchor="end" fill="#3a3a3a" stroke="#3a3a3a" stroke-width="0.1">100</text>
<path d="M260.2 287.45H263.4 M260.2 274.86H263.4 M260.2 262.27H263.4 M260.2 249.68H263.4 M260.2 237.09H263.4 M260.2 224.5H263.4 M269.55 287.45v2.8 M282.1 287.45v2.8 M294.65 287.45v2.8 M307.2 287.45v2.8 M319.75 287.45v2.8" stroke="#1a1a1a" stroke-width="0.9" fill="none"/>
<text x="269.55" y="299.55" font-size="6.7" text-anchor="middle" fill="#3a3a3a" stroke="#3a3a3a" stroke-width="0.1">4</text>
<text x="282.1" y="299.55" font-size="6.7" text-anchor="middle" fill="#3a3a3a" stroke="#3a3a3a" stroke-width="0.1">8</text>
<text x="294.65" y="299.55" font-size="6.7" text-anchor="middle" fill="#3a3a3a" stroke="#3a3a3a" stroke-width="0.1">12</text>
<text x="307.2" y="299.55" font-size="6.7" text-anchor="middle" fill="#3a3a3a" stroke="#3a3a3a" stroke-width="0.1">16</text>
<text x="319.75" y="299.55" font-size="6.7" text-anchor="middle" fill="#3a3a3a" stroke="#3a3a3a" stroke-width="0.1">20</text>
<path d="M269.55 283.04V274.86M268.75 274.86h1.6 M282.1 284.3V277.38M281.3 277.38h1.6 M294.65 284.93V278.01M293.85 278.01h1.6 M307.2 284.93V279.9M306.4 279.9h1.6 M319.75 285.56V281.15M318.95 281.15h1.6" stroke="#5a7ea8" stroke-width="0.9" fill="none"/>
<path d="M269.55 272.34V250.94M268.75 250.94h1.6 M282.1 248.42V227.65M281.3 227.65h1.6 M294.65 249.05V227.65M293.85 227.65h1.6 M307.2 252.83V230.8M306.4 230.8h1.6 M319.75 249.68V227.65M318.95 227.65h1.6" stroke="#c9677c" stroke-width="0.9" fill="none"/>
<polyline points="269.55,283.04 282.1,284.3 294.65,284.93 307.2,284.93 319.75,285.56" fill="none" stroke="#2c4462" stroke-width="1.15" stroke-linejoin="round"/>
<circle cx="269.55" cy="283.04" r="0.95" fill="#2c4462"/>
<circle cx="282.1" cy="284.3" r="0.95" fill="#2c4462"/>
<circle cx="294.65" cy="284.93" r="0.95" fill="#2c4462"/>
<circle cx="307.2" cy="284.93" r="0.95" fill="#2c4462"/>
<circle cx="319.75" cy="285.56" r="0.95" fill="#2c4462"/>
<polyline points="269.55,272.34 282.1,248.42 294.65,249.05 307.2,252.83 319.75,249.68" fill="none" stroke="#c21f3e" stroke-width="1.15" stroke-linejoin="round"/>
<circle cx="269.55" cy="272.34" r="0.95" fill="#c21f3e"/>
<circle cx="282.1" cy="248.42" r="0.95" fill="#c21f3e"/>
<circle cx="294.65" cy="249.05" r="0.95" fill="#c21f3e"/>
<circle cx="307.2" cy="252.83" r="0.95" fill="#c21f3e"/>
<circle cx="319.75" cy="249.68" r="0.95" fill="#c21f3e"/>
<text x="282.5" y="227.4" font-size="5.6" text-anchor="middle" fill="#4a2430" letter-spacing="0.8" stroke="#4a2430" stroke-width="0.2">*</text>
<text x="295.05" y="227.4" font-size="5.6" text-anchor="middle" fill="#4a2430" letter-spacing="0.8" stroke="#4a2430" stroke-width="0.2">*</text>
<text x="307.6" y="230.55" font-size="5.6" text-anchor="middle" fill="#4a2430" letter-spacing="0.8" stroke="#4a2430" stroke-width="0.2">*</text>
<text x="320.15" y="227.4" font-size="5.6" text-anchor="middle" fill="#4a2430" letter-spacing="0.8" stroke="#4a2430" stroke-width="0.2">*</text>
<path d="M322.4 249.5H324.9V284.8H322.4" fill="none" stroke="#333" stroke-width="0.95"/>
<text transform="translate(325.7,267.15) rotate(90)" font-size="5.6" text-anchor="middle" fill="#333" letter-spacing="0.8" stroke="#333" stroke-width="0.2">***</text>
<text x="386.4" y="212.5" font-size="8.3" fill="#333" stroke="#333" stroke-width="0.03" textLength="24.9" lengthAdjust="spacingAndGlyphs">T cells</text>
<text transform="translate(348.6,255.57) rotate(-90)" font-size="8.4" text-anchor="middle" fill="#444" stroke="#444" stroke-width="0.05" textLength="58.8" lengthAdjust="spacingAndGlyphs">% of donor-derived</text>
<path d="M367.5 222.1V287.45H429.85" fill="none" stroke="#1a1a1a" stroke-width="1.1"/>
<text x="361.1" y="289.75" font-size="6.5" text-anchor="end" fill="#3a3a3a" stroke="#3a3a3a" stroke-width="0.1">0</text>
<text x="361.1" y="268.77" font-size="6.5" text-anchor="end" fill="#3a3a3a" stroke="#3a3a3a" stroke-width="0.1">5</text>
<text x="361.1" y="247.78" font-size="6.5" text-anchor="end" fill="#3a3a3a" stroke="#3a3a3a" stroke-width="0.1">10</text>
<text x="361.1" y="226.8" font-size="6.5" text-anchor="end" fill="#3a3a3a" stroke="#3a3a3a" stroke-width="0.1">15</text>
<path d="M364.3 287.45H367.5 M364.3 266.47H367.5 M364.3 245.48H367.5 M364.3 224.5H367.5 M373.65 287.45v2.8 M386.2 287.45v2.8 M398.75 287.45v2.8 M411.3 287.45v2.8 M423.85 287.45v2.8" stroke="#1a1a1a" stroke-width="0.9" fill="none"/>
<text x="373.65" y="299.55" font-size="6.7" text-anchor="middle" fill="#3a3a3a" stroke="#3a3a3a" stroke-width="0.1">4</text>
<text x="386.2" y="299.55" font-size="6.7" text-anchor="middle" fill="#3a3a3a" stroke="#3a3a3a" stroke-width="0.1">8</text>
<text x="398.75" y="299.55" font-size="6.7" text-anchor="middle" fill="#3a3a3a" stroke="#3a3a3a" stroke-width="0.1">12</text>
<text x="411.3" y="299.55" font-size="6.7" text-anchor="middle" fill="#3a3a3a" stroke="#3a3a3a" stroke-width="0.1">16</text>
<text x="423.85" y="299.55" font-size="6.7" text-anchor="middle" fill="#3a3a3a" stroke="#3a3a3a" stroke-width="0.1">20</text>
<path d="M373.65 286.19V283.25M372.85 283.25h1.6 M386.2 268.56V232.89M385.4 232.89h1.6 M398.75 270.24V233.73M397.95 233.73h1.6 M411.3 271.92V237.09M410.5 237.09h1.6 M423.85 273.6V234.99M423.05 234.99h1.6" stroke="#5a7ea8" stroke-width="0.9" fill="none"/>
<path d="M373.65 287.45V285.35M372.85 285.35h1.6 M386.2 260.17V249.68M385.4 249.68h1.6 M398.75 262.27V251.78M397.95 251.78h1.6 M411.3 259.75V241.29M410.5 241.29h1.6 M423.85 258.91V243.38M423.05 243.38h1.6" stroke="#c9677c" stroke-width="0.9" fill="none"/>
<polyline points="373.65,286.19 386.2,268.56 398.75,270.24 411.3,271.92 423.85,273.6" fill="none" stroke="#2c4462" stroke-width="1.15" stroke-linejoin="round"/>
<circle cx="373.65" cy="286.19" r="0.95" fill="#2c4462"/>
<circle cx="386.2" cy="268.56" r="0.95" fill="#2c4462"/>
<circle cx="398.75" cy="270.24" r="0.95" fill="#2c4462"/>
<circle cx="411.3" cy="271.92" r="0.95" fill="#2c4462"/>
<circle cx="423.85" cy="273.6" r="0.95" fill="#2c4462"/>
<polyline points="373.65,287.45 386.2,260.17 398.75,262.27 411.3,259.75 423.85,258.91" fill="none" stroke="#c21f3e" stroke-width="1.15" stroke-linejoin="round"/>
<circle cx="373.65" cy="287.45" r="0.95" fill="#c21f3e"/>
<circle cx="386.2" cy="260.17" r="0.95" fill="#c21f3e"/>
<circle cx="398.75" cy="262.27" r="0.95" fill="#c21f3e"/>
<circle cx="411.3" cy="259.75" r="0.95" fill="#c21f3e"/>
<circle cx="423.85" cy="258.91" r="0.95" fill="#c21f3e"/>
<path d="M425.9 259.4H428.3V273.1H425.9" fill="none" stroke="#333" stroke-width="0.95"/>
<text transform="translate(428.3,266.25) rotate(90)" font-size="5.6" text-anchor="middle" fill="#333" letter-spacing="0.8" stroke="#333" stroke-width="0.2">**</text>
<path d="M436.7 252.4h9.6" stroke="#2c4462" stroke-width="1.3"/>
<circle cx="441.5" cy="252.4" r="1.8" fill="#1f3546"/>
<path d="M436.7 262.6h9.6" stroke="#c21f3e" stroke-width="1.3"/>
<rect x="440" y="260.95" width="3.3" height="3.3" fill="#b3122f"/>
<text x="450" y="254.4" font-size="6.9" font-style="italic" fill="#2b2b2b" stroke="#2b2b2b" stroke-width="0.12" textLength="23" lengthAdjust="spacingAndGlyphs">Slc23a2</text>
<text x="473.3" y="251.5" font-size="3.8" font-style="italic" fill="#2b2b2b" stroke="#2b2b2b" stroke-width="0.12" textLength="9.6" lengthAdjust="spacingAndGlyphs">FL/FL</text>
<text x="450" y="264.4" font-size="6.9" font-style="italic" fill="#2b2b2b" stroke="#2b2b2b" stroke-width="0.12" textLength="23" lengthAdjust="spacingAndGlyphs">Slc23a2</text>
<text x="473.3" y="261.5" font-size="3.8" font-style="italic" fill="#2b2b2b" stroke="#2b2b2b" stroke-width="0.12" textLength="9.6" lengthAdjust="spacingAndGlyphs">FL/FL</text>
<text x="484" y="264.4" font-size="6.9" fill="#2b2b2b" stroke="#2b2b2b" stroke-width="0.12">;</text>
<text x="487.8" y="264.4" font-size="6.9" font-style="italic" fill="#2b2b2b" stroke="#2b2b2b" stroke-width="0.12" textLength="25.8" lengthAdjust="spacingAndGlyphs">Mx1-Cre</text>
<text x="203.6" y="312.1" font-size="9.5" fill="#2b2b2b" textLength="84.8" lengthAdjust="spacingAndGlyphs" stroke="#2b2b2b" stroke-width="0.2">Weeks after transplantation</text>
<text x="7.1" y="332.7" font-size="12.6" font-weight="bold" fill="#111" stroke="#111" stroke-width="0.2">D</text>
<rect x="46.4" y="322.4" width="407.5" height="12.9" fill="#c9c9cd"/>
<path d="M46.4 347.8H453.9 M102.3 322.4V360.3 M168.3 322.4V360.3 M198.3 322.4V360.3 M262.8 322.4V360.3 M326.7 322.4V360.3 M390 322.4V360.3" stroke="#2e2e2e" stroke-width="0.9" fill="none"/>
<path d="M46.4 335.3H453.9" stroke="#2e2e2e" stroke-width="1.1" fill="none"/>
<rect x="46.4" y="322.4" width="407.5" height="37.9" fill="none" stroke="#262626" stroke-width="1.1"/>
<text x="74.3" y="331" font-size="6.6" text-anchor="middle" font-weight="bold" fill="#1e1e1e" textLength="14.8" lengthAdjust="spacingAndGlyphs" stroke="#1e1e1e" stroke-width="0.05">Cells</text>
<text x="134.9" y="331" font-size="6.6" text-anchor="middle" font-weight="bold" fill="#1e1e1e" textLength="31.7" lengthAdjust="spacingAndGlyphs" stroke="#1e1e1e" stroke-width="0.05">Genotype</text>
<text x="182.9" y="331" font-size="6.6" text-anchor="middle" font-weight="bold" fill="#1e1e1e" textLength="15" lengthAdjust="spacingAndGlyphs" stroke="#1e1e1e" stroke-width="0.05">Total</text>
<text x="230.3" y="331" font-size="6.6" text-anchor="middle" font-weight="bold" fill="#1e1e1e" textLength="49.1" lengthAdjust="spacingAndGlyphs" stroke="#1e1e1e" stroke-width="0.05">Long-term MBT</text>
<text x="294.3" y="331" font-size="6.6" text-anchor="middle" font-weight="bold" fill="#1e1e1e" textLength="45.7" lengthAdjust="spacingAndGlyphs" stroke="#1e1e1e" stroke-width="0.05">Transient MBT</text>
<text x="357.8" y="331" font-size="6.6" text-anchor="middle" font-weight="bold" fill="#1e1e1e" textLength="38.6" lengthAdjust="spacingAndGlyphs" stroke="#1e1e1e" stroke-width="0.05">Transient BT</text>
<text x="423" y="331" font-size="6.6" text-anchor="middle" font-weight="bold" fill="#1e1e1e" textLength="57.1" lengthAdjust="spacingAndGlyphs" stroke="#1e1e1e" stroke-width="0.05">No reconstitution</text>
<text x="74.6" y="343.7" font-size="7.1" font-weight="bold" text-anchor="middle" fill="#1e1e1e" stroke="#1e1e1e" stroke-width="0.05" textLength="45.5" lengthAdjust="spacingAndGlyphs">50 HSC GFP<tspan font-size="5" dy="-2.7">neg</tspan></text>
<text x="118.5" y="343.7" font-size="6.9" font-style="italic" fill="#3a3a3a" stroke="#3a3a3a" stroke-width="0.12" textLength="21.8" lengthAdjust="spacingAndGlyphs">Slc23a2</text>
<text x="140.6" y="340.8" font-size="3.8" font-style="italic" fill="#3a3a3a" stroke="#3a3a3a" stroke-width="0.12" textLength="10.2" lengthAdjust="spacingAndGlyphs">FL/FL</text>
<text x="183.3" y="343.3" font-size="6.6" text-anchor="middle" fill="#3c3c3c" stroke="#3c3c3c" stroke-width="0.12">11</text>
<text x="230.55" y="343.3" font-size="6.6" text-anchor="middle" fill="#3c3c3c" stroke="#3c3c3c" stroke-width="0.12">1 (9%)</text>
<text x="294.75" y="343.3" font-size="6.6" text-anchor="middle" fill="#3c3c3c" stroke="#3c3c3c" stroke-width="0.12">7 (64%)</text>
<text x="358.35" y="343.3" font-size="6.6" text-anchor="middle" fill="#3c3c3c" stroke="#3c3c3c" stroke-width="0.12">0 (0%)</text>
<text x="421.95" y="343.3" font-size="6.6" text-anchor="middle" fill="#3c3c3c" stroke="#3c3c3c" stroke-width="0.12">3 (27%)</text>
<text x="74.6" y="356.2" font-size="7.1" font-weight="bold" text-anchor="middle" fill="#1e1e1e" stroke="#1e1e1e" stroke-width="0.05" textLength="45.5" lengthAdjust="spacingAndGlyphs">50 HSC GFP<tspan font-size="5" dy="-2.7">neg</tspan></text>
<text x="103.9" y="356.2" font-size="6.9" font-style="italic" fill="#3a3a3a" stroke="#3a3a3a" stroke-width="0.12" textLength="21.8" lengthAdjust="spacingAndGlyphs">Slc23a2</text>
<text x="126" y="353.3" font-size="3.8" font-style="italic" fill="#3a3a3a" stroke="#3a3a3a" stroke-width="0.12" textLength="10.2" lengthAdjust="spacingAndGlyphs">FL/FL</text>
<text x="137.2" y="356.2" font-size="6.9" fill="#3a3a3a" stroke="#3a3a3a" stroke-width="0.12">;</text>
<text x="139.4" y="356.2" font-size="6.9" font-style="italic" fill="#3a3a3a" stroke="#3a3a3a" stroke-width="0.12" textLength="26" lengthAdjust="spacingAndGlyphs">Mx1-Cre</text>
<text x="183.3" y="355.8" font-size="6.6" text-anchor="middle" fill="#3c3c3c" stroke="#3c3c3c" stroke-width="0.12">5</text>
<text x="230.55" y="355.8" font-size="6.6" text-anchor="middle" fill="#3c3c3c" stroke="#3c3c3c" stroke-width="0.12">5 (100%)</text>
<text x="294.75" y="355.8" font-size="6.6" text-anchor="middle" fill="#3c3c3c" stroke="#3c3c3c" stroke-width="0.12">0 (0%)</text>
<text x="358.35" y="355.8" font-size="6.6" text-anchor="middle" fill="#3c3c3c" stroke="#3c3c3c" stroke-width="0.12">0 (0%)</text>
<text x="421.95" y="355.8" font-size="6.6" text-anchor="middle" fill="#3c3c3c" stroke="#3c3c3c" stroke-width="0.12">0 (0%)</text>
<text x="7.5" y="379.4" font-size="12.6" font-weight="bold" fill="#111" stroke="#111" stroke-width="0.2">E</text>
<text x="215.4" y="379.3" font-size="9.1" fill="#303030" stroke="#303030" stroke-width="0.04" textLength="63.5" lengthAdjust="spacingAndGlyphs">25 MPP GFP<tspan font-size="6.2" dy="-3.5">high</tspan></text>
<text x="48.2" y="396" font-size="8.3" fill="#333" stroke="#333" stroke-width="0.03" textLength="59.8" lengthAdjust="spacingAndGlyphs">All CD45<tspan font-size="5.8" dy="-2.7">+</tspan><tspan dy="2.7"> cells</tspan></text>
<text transform="translate(24.15,434.58) rotate(-90)" font-size="8.4" text-anchor="middle" fill="#444" stroke="#444" stroke-width="0.05" textLength="58.8" lengthAdjust="spacingAndGlyphs">% of donor-derived</text>
<path d="M46.5 401.1V466.45H108.85" fill="none" stroke="#1a1a1a" stroke-width="1.1"/>
<text x="40.1" y="468.75" font-size="6.5" text-anchor="end" fill="#3a3a3a" stroke="#3a3a3a" stroke-width="0.1">0</text>
<text x="40.1" y="456.16" font-size="6.5" text-anchor="end" fill="#3a3a3a" stroke="#3a3a3a" stroke-width="0.1">20</text>
<text x="40.1" y="443.57" font-size="6.5" text-anchor="end" fill="#3a3a3a" stroke="#3a3a3a" stroke-width="0.1">40</text>
<text x="40.1" y="430.98" font-size="6.5" text-anchor="end" fill="#3a3a3a" stroke="#3a3a3a" stroke-width="0.1">60</text>
<text x="40.1" y="418.39" font-size="6.5" text-anchor="end" fill="#3a3a3a" stroke="#3a3a3a" stroke-width="0.1">80</text>
<text x="40.1" y="405.8" font-size="6.5" text-anchor="end" fill="#3a3a3a" stroke="#3a3a3a" stroke-width="0.1">100</text>
<path d="M43.3 466.45H46.5 M43.3 453.86H46.5 M43.3 441.27H46.5 M43.3 428.68H46.5 M43.3 416.09H46.5 M43.3 403.5H46.5 M52.65 466.45v2.8 M65.2 466.45v2.8 M77.75 466.45v2.8 M90.3 466.45v2.8 M102.85 466.45v2.8" stroke="#1a1a1a" stroke-width="0.9" fill="none"/>
<text x="52.65" y="478.55" font-size="6.7" text-anchor="middle" fill="#3a3a3a" stroke="#3a3a3a" stroke-width="0.1">4</text>
<text x="65.2" y="478.55" font-size="6.7" text-anchor="middle" fill="#3a3a3a" stroke="#3a3a3a" stroke-width="0.1">8</text>
<text x="77.75" y="478.55" font-size="6.7" text-anchor="middle" fill="#3a3a3a" stroke="#3a3a3a" stroke-width="0.1">12</text>
<text x="90.3" y="478.55" font-size="6.7" text-anchor="middle" fill="#3a3a3a" stroke="#3a3a3a" stroke-width="0.1">16</text>
<text x="102.85" y="478.55" font-size="6.7" text-anchor="middle" fill="#3a3a3a" stroke="#3a3a3a" stroke-width="0.1">20</text>
<path d="M52.65 463.3V458.9M51.85 458.9h1.6 M65.2 463.93V460.78M64.4 460.78h1.6 M77.75 464.56V461.41M76.95 461.41h1.6 M90.3 465.19V462.67M89.5 462.67h1.6 M102.85 465.82V463.3M102.05 463.3h1.6" stroke="#5a7ea8" stroke-width="0.9" fill="none"/>
<path d="M52.65 438.12V426.16M51.85 426.16h1.6 M65.2 433.72V420.5M64.4 420.5h1.6 M77.75 433.72V419.24M76.95 419.24h1.6 M90.3 435.6V419.87M89.5 419.87h1.6 M102.85 438.12V421.13M102.05 421.13h1.6" stroke="#c9677c" stroke-width="0.9" fill="none"/>
<polyline points="52.65,463.3 65.2,463.93 77.75,464.56 90.3,465.19 102.85,465.82" fill="none" stroke="#2c4462" stroke-width="1.15" stroke-linejoin="round"/>
<circle cx="52.65" cy="463.3" r="0.95" fill="#2c4462"/>
<circle cx="65.2" cy="463.93" r="0.95" fill="#2c4462"/>
<circle cx="77.75" cy="464.56" r="0.95" fill="#2c4462"/>
<circle cx="90.3" cy="465.19" r="0.95" fill="#2c4462"/>
<circle cx="102.85" cy="465.82" r="0.95" fill="#2c4462"/>
<polyline points="52.65,438.12 65.2,433.72 77.75,433.72 90.3,435.6 102.85,438.12" fill="none" stroke="#c21f3e" stroke-width="1.15" stroke-linejoin="round"/>
<circle cx="52.65" cy="438.12" r="0.95" fill="#c21f3e"/>
<circle cx="65.2" cy="433.72" r="0.95" fill="#c21f3e"/>
<circle cx="77.75" cy="433.72" r="0.95" fill="#c21f3e"/>
<circle cx="90.3" cy="435.6" r="0.95" fill="#c21f3e"/>
<circle cx="102.85" cy="438.12" r="0.95" fill="#c21f3e"/>
<text x="53.05" y="425.47" font-size="5.6" text-anchor="middle" fill="#4a2430" letter-spacing="0.8" stroke="#4a2430" stroke-width="0.2">**</text>
<text x="65.6" y="420.44" font-size="5.6" text-anchor="middle" fill="#4a2430" letter-spacing="0.8" stroke="#4a2430" stroke-width="0.2">**</text>
<text x="78.15" y="419.18" font-size="5.6" text-anchor="middle" fill="#4a2430" letter-spacing="0.8" stroke="#4a2430" stroke-width="0.2">**</text>
<text x="90.7" y="419.18" font-size="5.6" text-anchor="middle" fill="#4a2430" letter-spacing="0.8" stroke="#4a2430" stroke-width="0.2">**</text>
<text x="103.25" y="421.19" font-size="5.6" text-anchor="middle" fill="#4a2430" letter-spacing="0.8" stroke="#4a2430" stroke-width="0.2">**</text>
<path d="M106.4 438.4H108.9V464.7H106.4" fill="none" stroke="#333" stroke-width="0.95"/>
<text transform="translate(109.2,451.55) rotate(90)" font-size="5.6" text-anchor="middle" fill="#333" letter-spacing="0.8" stroke="#333" stroke-width="0.2">****</text>
<text x="159.8" y="396" font-size="8.3" fill="#333" stroke="#333" stroke-width="0.03" textLength="52" lengthAdjust="spacingAndGlyphs">Myeloid cells</text>
<text transform="translate(132.15,434.58) rotate(-90)" font-size="8.4" text-anchor="middle" fill="#444" stroke="#444" stroke-width="0.05" textLength="58.8" lengthAdjust="spacingAndGlyphs">% of donor-derived</text>
<path d="M154.5 401.1V466.45H216.85" fill="none" stroke="#1a1a1a" stroke-width="1.1"/>
<text x="148.1" y="468.75" font-size="6.5" text-anchor="end" fill="#3a3a3a" stroke="#3a3a3a" stroke-width="0.1">0</text>
<text x="148.1" y="458.26" font-size="6.5" text-anchor="end" fill="#3a3a3a" stroke="#3a3a3a" stroke-width="0.1">20</text>
<text x="148.1" y="447.77" font-size="6.5" text-anchor="end" fill="#3a3a3a" stroke="#3a3a3a" stroke-width="0.1">40</text>
<text x="148.1" y="437.27" font-size="6.5" text-anchor="end" fill="#3a3a3a" stroke="#3a3a3a" stroke-width="0.1">60</text>
<text x="148.1" y="426.78" font-size="6.5" text-anchor="end" fill="#3a3a3a" stroke="#3a3a3a" stroke-width="0.1">80</text>
<text x="148.1" y="416.29" font-size="6.5" text-anchor="end" fill="#3a3a3a" stroke="#3a3a3a" stroke-width="0.1">100</text>
<text x="148.1" y="405.8" font-size="6.5" text-anchor="end" fill="#3a3a3a" stroke="#3a3a3a" stroke-width="0.1">120</text>
<path d="M151.3 466.45H154.5 M151.3 455.96H154.5 M151.3 445.47H154.5 M151.3 434.97H154.5 M151.3 424.48H154.5 M151.3 413.99H154.5 M151.3 403.5H154.5 M160.65 466.45v2.8 M173.2 466.45v2.8 M185.75 466.45v2.8 M198.3 466.45v2.8 M210.85 466.45v2.8" stroke="#1a1a1a" stroke-width="0.9" fill="none"/>
<text x="160.65" y="478.55" font-size="6.7" text-anchor="middle" fill="#3a3a3a" stroke="#3a3a3a" stroke-width="0.1">4</text>
<text x="173.2" y="478.55" font-size="6.7" text-anchor="middle" fill="#3a3a3a" stroke="#3a3a3a" stroke-width="0.1">8</text>
<text x="185.75" y="478.55" font-size="6.7" text-anchor="middle" fill="#3a3a3a" stroke="#3a3a3a" stroke-width="0.1">12</text>
<text x="198.3" y="478.55" font-size="6.7" text-anchor="middle" fill="#3a3a3a" stroke="#3a3a3a" stroke-width="0.1">16</text>
<text x="210.85" y="478.55" font-size="6.7" text-anchor="middle" fill="#3a3a3a" stroke="#3a3a3a" stroke-width="0.1">20</text>
<path d="M160.65 464.35V460.15M159.85 460.15h1.6 M173.2 465.93V465.4M172.4 465.4h1.6 M185.75 466.19V465.93M184.95 465.93h1.6 M198.3 466.45V466.19M197.5 466.19h1.6 M210.85 466.45V466.19M210.05 466.19h1.6" stroke="#5a7ea8" stroke-width="0.9" fill="none"/>
<path d="M160.65 438.65V420.81M159.85 420.81h1.6 M173.2 430.25V409.8M172.4 409.8h1.6 M185.75 429.2V408.75M184.95 408.75h1.6 M198.3 430.25V409.8M197.5 409.8h1.6 M210.85 434.45V412.42M210.05 412.42h1.6" stroke="#c9677c" stroke-width="0.9" fill="none"/>
<polyline points="160.65,464.35 173.2,465.93 185.75,466.19 198.3,466.45 210.85,466.45" fill="none" stroke="#2c4462" stroke-width="1.15" stroke-linejoin="round"/>
<circle cx="160.65" cy="464.35" r="0.95" fill="#2c4462"/>
<circle cx="173.2" cy="465.93" r="0.95" fill="#2c4462"/>
<circle cx="185.75" cy="466.19" r="0.95" fill="#2c4462"/>
<circle cx="198.3" cy="466.45" r="0.95" fill="#2c4462"/>
<circle cx="210.85" cy="466.45" r="0.95" fill="#2c4462"/>
<polyline points="160.65,438.65 173.2,430.25 185.75,429.2 198.3,430.25 210.85,434.45" fill="none" stroke="#c21f3e" stroke-width="1.15" stroke-linejoin="round"/>
<circle cx="160.65" cy="438.65" r="0.95" fill="#c21f3e"/>
<circle cx="173.2" cy="430.25" r="0.95" fill="#c21f3e"/>
<circle cx="185.75" cy="429.2" r="0.95" fill="#c21f3e"/>
<circle cx="198.3" cy="430.25" r="0.95" fill="#c21f3e"/>
<circle cx="210.85" cy="434.45" r="0.95" fill="#c21f3e"/>
<text x="161.05" y="420.56" font-size="5.6" text-anchor="middle" fill="#4a2430" letter-spacing="0.8" stroke="#4a2430" stroke-width="0.2">**</text>
<text x="173.6" y="410.07" font-size="5.6" text-anchor="middle" fill="#4a2430" letter-spacing="0.8" stroke="#4a2430" stroke-width="0.2">***</text>
<text x="186.15" y="409.02" font-size="5.6" text-anchor="middle" fill="#4a2430" letter-spacing="0.8" stroke="#4a2430" stroke-width="0.2">***</text>
<text x="198.7" y="410.07" font-size="5.6" text-anchor="middle" fill="#4a2430" letter-spacing="0.8" stroke="#4a2430" stroke-width="0.2">***</text>
<text x="211.25" y="412.85" font-size="5.6" text-anchor="middle" fill="#4a2430" letter-spacing="0.8" stroke="#4a2430" stroke-width="0.2">***</text>
<path d="M214 434.4H216.5V464.8H214" fill="none" stroke="#333" stroke-width="0.95"/>
<text transform="translate(216.9,449.6) rotate(90)" font-size="5.6" text-anchor="middle" fill="#333" letter-spacing="0.8" stroke="#333" stroke-width="0.2">****</text>
<text x="281.6" y="396" font-size="8.3" fill="#333" stroke="#333" stroke-width="0.03" textLength="25.5" lengthAdjust="spacingAndGlyphs">B cells</text>
<text transform="translate(241.05,434.58) rotate(-90)" font-size="8.4" text-anchor="middle" fill="#444" stroke="#444" stroke-width="0.05" textLength="58.8" lengthAdjust="spacingAndGlyphs">% of donor-derived</text>
<path d="M263.4 401.1V466.45H325.75" fill="none" stroke="#1a1a1a" stroke-width="1.1"/>
<text x="257" y="468.75" font-size="6.5" text-anchor="end" fill="#3a3a3a" stroke="#3a3a3a" stroke-width="0.1">0</text>
<text x="257" y="456.16" font-size="6.5" text-anchor="end" fill="#3a3a3a" stroke="#3a3a3a" stroke-width="0.1">20</text>
<text x="257" y="443.57" font-size="6.5" text-anchor="end" fill="#3a3a3a" stroke="#3a3a3a" stroke-width="0.1">40</text>
<text x="257" y="430.98" font-size="6.5" text-anchor="end" fill="#3a3a3a" stroke="#3a3a3a" stroke-width="0.1">60</text>
<text x="257" y="418.39" font-size="6.5" text-anchor="end" fill="#3a3a3a" stroke="#3a3a3a" stroke-width="0.1">80</text>
<text x="257" y="405.8" font-size="6.5" text-anchor="end" fill="#3a3a3a" stroke="#3a3a3a" stroke-width="0.1">100</text>
<path d="M260.2 466.45H263.4 M260.2 453.86H263.4 M260.2 441.27H263.4 M260.2 428.68H263.4 M260.2 416.09H263.4 M260.2 403.5H263.4 M269.55 466.45v2.8 M282.1 466.45v2.8 M294.65 466.45v2.8 M307.2 466.45v2.8 M319.75 466.45v2.8" stroke="#1a1a1a" stroke-width="0.9" fill="none"/>
<text x="269.55" y="478.55" font-size="6.7" text-anchor="middle" fill="#3a3a3a" stroke="#3a3a3a" stroke-width="0.1">4</text>
<text x="282.1" y="478.55" font-size="6.7" text-anchor="middle" fill="#3a3a3a" stroke="#3a3a3a" stroke-width="0.1">8</text>
<text x="294.65" y="478.55" font-size="6.7" text-anchor="middle" fill="#3a3a3a" stroke="#3a3a3a" stroke-width="0.1">12</text>
<text x="307.2" y="478.55" font-size="6.7" text-anchor="middle" fill="#3a3a3a" stroke="#3a3a3a" stroke-width="0.1">16</text>
<text x="319.75" y="478.55" font-size="6.7" text-anchor="middle" fill="#3a3a3a" stroke="#3a3a3a" stroke-width="0.1">20</text>
<path d="M269.55 460.78V455.12M268.75 455.12h1.6 M282.1 463.93V460.15M281.3 460.15h1.6 M294.65 464.56V460.78M293.85 460.78h1.6 M307.2 464.56V462.04M306.4 462.04h1.6 M319.75 465.19V463.3M318.95 463.3h1.6" stroke="#5a7ea8" stroke-width="0.9" fill="none"/>
<path d="M269.55 426.79V409.8M268.75 409.8h1.6 M282.1 424.27V407.91M281.3 407.91h1.6 M294.65 424.9V408.54M293.85 408.54h1.6 M307.2 426.79V408.54M306.4 408.54h1.6 M319.75 428.05V409.8M318.95 409.8h1.6" stroke="#c9677c" stroke-width="0.9" fill="none"/>
<polyline points="269.55,460.78 282.1,463.93 294.65,464.56 307.2,464.56 319.75,465.19" fill="none" stroke="#2c4462" stroke-width="1.15" stroke-linejoin="round"/>
<circle cx="269.55" cy="460.78" r="0.95" fill="#2c4462"/>
<circle cx="282.1" cy="463.93" r="0.95" fill="#2c4462"/>
<circle cx="294.65" cy="464.56" r="0.95" fill="#2c4462"/>
<circle cx="307.2" cy="464.56" r="0.95" fill="#2c4462"/>
<circle cx="319.75" cy="465.19" r="0.95" fill="#2c4462"/>
<polyline points="269.55,426.79 282.1,424.27 294.65,424.9 307.2,426.79 319.75,428.05" fill="none" stroke="#c21f3e" stroke-width="1.15" stroke-linejoin="round"/>
<circle cx="269.55" cy="426.79" r="0.95" fill="#c21f3e"/>
<circle cx="282.1" cy="424.27" r="0.95" fill="#c21f3e"/>
<circle cx="294.65" cy="424.9" r="0.95" fill="#c21f3e"/>
<circle cx="307.2" cy="426.79" r="0.95" fill="#c21f3e"/>
<circle cx="319.75" cy="428.05" r="0.95" fill="#c21f3e"/>
<text x="269.95" y="409.86" font-size="5.6" text-anchor="middle" fill="#4a2430" letter-spacing="0.8" stroke="#4a2430" stroke-width="0.2">**</text>
<text x="282.5" y="409.86" font-size="5.6" text-anchor="middle" fill="#4a2430" letter-spacing="0.8" stroke="#4a2430" stroke-width="0.2">**</text>
<text x="295.05" y="409.86" font-size="5.6" text-anchor="middle" fill="#4a2430" letter-spacing="0.8" stroke="#4a2430" stroke-width="0.2">**</text>
<text x="307.6" y="409.86" font-size="5.6" text-anchor="middle" fill="#4a2430" letter-spacing="0.8" stroke="#4a2430" stroke-width="0.2">**</text>
<text x="320.15" y="409.86" font-size="5.6" text-anchor="middle" fill="#4a2430" letter-spacing="0.8" stroke="#4a2430" stroke-width="0.2">**</text>
<path d="M322.8 428.6H325.3V463.8H322.8" fill="none" stroke="#333" stroke-width="0.95"/>
<text transform="translate(325.8,446.2) rotate(90)" font-size="5.6" text-anchor="middle" fill="#333" letter-spacing="0.8" stroke="#333" stroke-width="0.2">****</text>
<text x="386.4" y="396" font-size="8.3" fill="#333" stroke="#333" stroke-width="0.03" textLength="24.9" lengthAdjust="spacingAndGlyphs">T cells</text>
<text transform="translate(348.6,434.58) rotate(-90)" font-size="8.4" text-anchor="middle" fill="#444" stroke="#444" stroke-width="0.05" textLength="58.8" lengthAdjust="spacingAndGlyphs">% of donor-derived</text>
<path d="M367.5 401.1V466.45H429.85" fill="none" stroke="#1a1a1a" stroke-width="1.1"/>
<text x="361.1" y="468.75" font-size="6.5" text-anchor="end" fill="#3a3a3a" stroke="#3a3a3a" stroke-width="0.1">0</text>
<text x="361.1" y="456.16" font-size="6.5" text-anchor="end" fill="#3a3a3a" stroke="#3a3a3a" stroke-width="0.1">5</text>
<text x="361.1" y="443.57" font-size="6.5" text-anchor="end" fill="#3a3a3a" stroke="#3a3a3a" stroke-width="0.1">10</text>
<text x="361.1" y="430.98" font-size="6.5" text-anchor="end" fill="#3a3a3a" stroke="#3a3a3a" stroke-width="0.1">15</text>
<text x="361.1" y="418.39" font-size="6.5" text-anchor="end" fill="#3a3a3a" stroke="#3a3a3a" stroke-width="0.1">20</text>
<text x="361.1" y="405.8" font-size="6.5" text-anchor="end" fill="#3a3a3a" stroke="#3a3a3a" stroke-width="0.1">25</text>
<path d="M364.3 466.45H367.5 M364.3 453.86H367.5 M364.3 441.27H367.5 M364.3 428.68H367.5 M364.3 416.09H367.5 M364.3 403.5H367.5 M373.65 466.45v2.8 M386.2 466.45v2.8 M398.75 466.45v2.8 M411.3 466.45v2.8 M423.85 466.45v2.8" stroke="#1a1a1a" stroke-width="0.9" fill="none"/>
<text x="373.65" y="478.55" font-size="6.7" text-anchor="middle" fill="#3a3a3a" stroke="#3a3a3a" stroke-width="0.1">4</text>
<text x="386.2" y="478.55" font-size="6.7" text-anchor="middle" fill="#3a3a3a" stroke="#3a3a3a" stroke-width="0.1">8</text>
<text x="398.75" y="478.55" font-size="6.7" text-anchor="middle" fill="#3a3a3a" stroke="#3a3a3a" stroke-width="0.1">12</text>
<text x="411.3" y="478.55" font-size="6.7" text-anchor="middle" fill="#3a3a3a" stroke="#3a3a3a" stroke-width="0.1">16</text>
<text x="423.85" y="478.55" font-size="6.7" text-anchor="middle" fill="#3a3a3a" stroke="#3a3a3a" stroke-width="0.1">20</text>
<path d="M373.65 465.19V463.93M372.85 463.93h1.6 M386.2 453.1V431.2M385.4 431.2h1.6 M398.75 455.62V436.23M397.95 436.23h1.6 M411.3 457.64V441.27M410.5 441.27h1.6 M423.85 459.65V447.56M423.05 447.56h1.6" stroke="#5a7ea8" stroke-width="0.9" fill="none"/>
<path d="M373.65 463.93V462.67M372.85 462.67h1.6 M386.2 443.28V428.68M385.4 428.68h1.6 M398.75 442.78V428.68M397.95 428.68h1.6 M411.3 441.77V424.9M410.5 424.9h1.6 M423.85 438.75V416.09M423.05 416.09h1.6" stroke="#c9677c" stroke-width="0.9" fill="none"/>
<polyline points="373.65,465.19 386.2,453.1 398.75,455.62 411.3,457.64 423.85,459.65" fill="none" stroke="#2c4462" stroke-width="1.15" stroke-linejoin="round"/>
<circle cx="373.65" cy="465.19" r="0.95" fill="#2c4462"/>
<circle cx="386.2" cy="453.1" r="0.95" fill="#2c4462"/>
<circle cx="398.75" cy="455.62" r="0.95" fill="#2c4462"/>
<circle cx="411.3" cy="457.64" r="0.95" fill="#2c4462"/>
<circle cx="423.85" cy="459.65" r="0.95" fill="#2c4462"/>
<polyline points="373.65,463.93 386.2,443.28 398.75,442.78 411.3,441.77 423.85,438.75" fill="none" stroke="#c21f3e" stroke-width="1.15" stroke-linejoin="round"/>
<circle cx="373.65" cy="463.93" r="0.95" fill="#c21f3e"/>
<circle cx="386.2" cy="443.28" r="0.95" fill="#c21f3e"/>
<circle cx="398.75" cy="442.78" r="0.95" fill="#c21f3e"/>
<circle cx="411.3" cy="441.77" r="0.95" fill="#c21f3e"/>
<circle cx="423.85" cy="438.75" r="0.95" fill="#c21f3e"/>
<path d="M423.4 439.2H427.7V459.5H423.4" fill="none" stroke="#333" stroke-width="0.95"/>
<text transform="translate(428.1,449.35) rotate(90)" font-size="5.6" text-anchor="middle" fill="#333" letter-spacing="0.8" stroke="#333" stroke-width="0.2">*</text>
<path d="M436.7 431.7h9.6" stroke="#2c4462" stroke-width="1.3"/>
<circle cx="441.5" cy="431.7" r="1.8" fill="#1f3546"/>
<path d="M436.7 441.7h9.6" stroke="#c21f3e" stroke-width="1.3"/>
<rect x="440" y="440.05" width="3.3" height="3.3" fill="#b3122f"/>
<text x="450" y="433.7" font-size="6.9" font-style="italic" fill="#2b2b2b" stroke="#2b2b2b" stroke-width="0.12" textLength="23" lengthAdjust="spacingAndGlyphs">Slc23a2</text>
<text x="473.3" y="430.8" font-size="3.8" font-style="italic" fill="#2b2b2b" stroke="#2b2b2b" stroke-width="0.12" textLength="9.6" lengthAdjust="spacingAndGlyphs">FL/FL</text>
<text x="450" y="443.5" font-size="6.9" font-style="italic" fill="#2b2b2b" stroke="#2b2b2b" stroke-width="0.12" textLength="23" lengthAdjust="spacingAndGlyphs">Slc23a2</text>
<text x="473.3" y="440.6" font-size="3.8" font-style="italic" fill="#2b2b2b" stroke="#2b2b2b" stroke-width="0.12" textLength="9.6" lengthAdjust="spacingAndGlyphs">FL/FL</text>
<text x="484" y="443.5" font-size="6.9" fill="#2b2b2b" stroke="#2b2b2b" stroke-width="0.12">;</text>
<text x="487.8" y="443.5" font-size="6.9" font-style="italic" fill="#2b2b2b" stroke="#2b2b2b" stroke-width="0.12" textLength="25.8" lengthAdjust="spacingAndGlyphs">Mx1-Cre</text>
<text x="203.6" y="491.5" font-size="9.5" fill="#2b2b2b" textLength="84.8" lengthAdjust="spacingAndGlyphs" stroke="#2b2b2b" stroke-width="0.2">Weeks after transplantation</text>
<text x="7.8" y="512.4" font-size="12.6" font-weight="bold" fill="#111" stroke="#111" stroke-width="0.2">F</text>
<rect x="46.4" y="501.6" width="407.5" height="12.9" fill="#c9c9cd"/>
<path d="M46.4 527H453.9 M102.3 501.6V539.5 M168.3 501.6V539.5 M198.3 501.6V539.5 M262.8 501.6V539.5 M326.7 501.6V539.5 M390 501.6V539.5" stroke="#2e2e2e" stroke-width="0.9" fill="none"/>
<path d="M46.4 514.5H453.9" stroke="#2e2e2e" stroke-width="1.1" fill="none"/>
<rect x="46.4" y="501.6" width="407.5" height="37.9" fill="none" stroke="#262626" stroke-width="1.1"/>
<text x="74.3" y="510.2" font-size="6.6" text-anchor="middle" font-weight="bold" fill="#1e1e1e" textLength="14.8" lengthAdjust="spacingAndGlyphs" stroke="#1e1e1e" stroke-width="0.05">Cells</text>
<text x="134.9" y="510.2" font-size="6.6" text-anchor="middle" font-weight="bold" fill="#1e1e1e" textLength="31.7" lengthAdjust="spacingAndGlyphs" stroke="#1e1e1e" stroke-width="0.05">Genotype</text>
<text x="182.9" y="510.2" font-size="6.6" text-anchor="middle" font-weight="bold" fill="#1e1e1e" textLength="15" lengthAdjust="spacingAndGlyphs" stroke="#1e1e1e" stroke-width="0.05">Total</text>
<text x="230.3" y="510.2" font-size="6.6" text-anchor="middle" font-weight="bold" fill="#1e1e1e" textLength="49.1" lengthAdjust="spacingAndGlyphs" stroke="#1e1e1e" stroke-width="0.05">Long-term MBT</text>
<text x="294.3" y="510.2" font-size="6.6" text-anchor="middle" font-weight="bold" fill="#1e1e1e" textLength="45.7" lengthAdjust="spacingAndGlyphs" stroke="#1e1e1e" stroke-width="0.05">Transient MBT</text>
<text x="357.8" y="510.2" font-size="6.6" text-anchor="middle" font-weight="bold" fill="#1e1e1e" textLength="38.6" lengthAdjust="spacingAndGlyphs" stroke="#1e1e1e" stroke-width="0.05">Transient BT</text>
<text x="423" y="510.2" font-size="6.6" text-anchor="middle" font-weight="bold" fill="#1e1e1e" textLength="57.1" lengthAdjust="spacingAndGlyphs" stroke="#1e1e1e" stroke-width="0.05">No reconstitution</text>
<text x="74.6" y="522.9" font-size="7.1" font-weight="bold" text-anchor="middle" fill="#1e1e1e" stroke="#1e1e1e" stroke-width="0.05" textLength="49.2" lengthAdjust="spacingAndGlyphs">25 MPP GFP<tspan font-size="5" dy="-2.7">high</tspan></text>
<text x="118.5" y="522.9" font-size="6.9" font-style="italic" fill="#3a3a3a" stroke="#3a3a3a" stroke-width="0.12" textLength="21.8" lengthAdjust="spacingAndGlyphs">Slc23a2</text>
<text x="140.6" y="520" font-size="3.8" font-style="italic" fill="#3a3a3a" stroke="#3a3a3a" stroke-width="0.12" textLength="10.2" lengthAdjust="spacingAndGlyphs">FL/FL</text>
<text x="183.3" y="522.5" font-size="6.6" text-anchor="middle" fill="#3c3c3c" stroke="#3c3c3c" stroke-width="0.12">10</text>
<text x="230.55" y="522.5" font-size="6.6" text-anchor="middle" fill="#3c3c3c" stroke="#3c3c3c" stroke-width="0.12">0 (0%)</text>
<text x="294.75" y="522.5" font-size="6.6" text-anchor="middle" fill="#3c3c3c" stroke="#3c3c3c" stroke-width="0.12">5 (50%)</text>
<text x="358.35" y="522.5" font-size="6.6" text-anchor="middle" fill="#3c3c3c" stroke="#3c3c3c" stroke-width="0.12">2 (20%)</text>
<text x="421.95" y="522.5" font-size="6.6" text-anchor="middle" fill="#3c3c3c" stroke="#3c3c3c" stroke-width="0.12">3 (30%)</text>
<text x="74.6" y="535.4" font-size="7.1" font-weight="bold" text-anchor="middle" fill="#1e1e1e" stroke="#1e1e1e" stroke-width="0.05" textLength="49.2" lengthAdjust="spacingAndGlyphs">25 MPP GFP<tspan font-size="5" dy="-2.7">high</tspan></text>
<text x="103.9" y="535.4" font-size="6.9" font-style="italic" fill="#3a3a3a" stroke="#3a3a3a" stroke-width="0.12" textLength="21.8" lengthAdjust="spacingAndGlyphs">Slc23a2</text>
<text x="126" y="532.5" font-size="3.8" font-style="italic" fill="#3a3a3a" stroke="#3a3a3a" stroke-width="0.12" textLength="10.2" lengthAdjust="spacingAndGlyphs">FL/FL</text>
<text x="137.2" y="535.4" font-size="6.9" fill="#3a3a3a" stroke="#3a3a3a" stroke-width="0.12">;</text>
<text x="139.4" y="535.4" font-size="6.9" font-style="italic" fill="#3a3a3a" stroke="#3a3a3a" stroke-width="0.12" textLength="26" lengthAdjust="spacingAndGlyphs">Mx1-Cre</text>
<text x="183.3" y="535" font-size="6.6" text-anchor="middle" fill="#3c3c3c" stroke="#3c3c3c" stroke-width="0.12">10</text>
<text x="230.55" y="535" font-size="6.6" text-anchor="middle" fill="#3c3c3c" stroke="#3c3c3c" stroke-width="0.12">8 (80%)</text>
<text x="294.75" y="535" font-size="6.6" text-anchor="middle" fill="#3c3c3c" stroke="#3c3c3c" stroke-width="0.12">1 (10%)</text>
<text x="358.35" y="535" font-size="6.6" text-anchor="middle" fill="#3c3c3c" stroke="#3c3c3c" stroke-width="0.12">0 (0%)</text>
<text x="421.95" y="535" font-size="6.6" text-anchor="middle" fill="#3c3c3c" stroke="#3c3c3c" stroke-width="0.12">1 (10%)</text>
<text x="7" y="558.7" font-size="12.6" font-weight="bold" fill="#111" stroke="#111" stroke-width="0.2">G</text>
<text x="214.4" y="558.7" font-size="9.1" fill="#303030" stroke="#303030" stroke-width="0.04" textLength="65.5" lengthAdjust="spacingAndGlyphs">100 MPP GFP<tspan font-size="6.2" dy="-3.5">neg</tspan></text>
<text x="48.2" y="574.6" font-size="8.3" fill="#333" stroke="#333" stroke-width="0.03" textLength="59.8" lengthAdjust="spacingAndGlyphs">All CD45<tspan font-size="5.8" dy="-2.7">+</tspan><tspan dy="2.7"> cells</tspan></text>
<text transform="translate(27.6,614.07) rotate(-90)" font-size="8.4" text-anchor="middle" fill="#444" stroke="#444" stroke-width="0.05" textLength="58.8" lengthAdjust="spacingAndGlyphs">% of donor-derived</text>
<path d="M46.5 581V645.55H108.85" fill="none" stroke="#1a1a1a" stroke-width="1.1"/>
<text x="40.1" y="647.85" font-size="6.5" text-anchor="end" fill="#3a3a3a" stroke="#3a3a3a" stroke-width="0.1">0</text>
<text x="40.1" y="635.42" font-size="6.5" text-anchor="end" fill="#3a3a3a" stroke="#3a3a3a" stroke-width="0.1">10</text>
<text x="40.1" y="622.99" font-size="6.5" text-anchor="end" fill="#3a3a3a" stroke="#3a3a3a" stroke-width="0.1">20</text>
<text x="40.1" y="610.56" font-size="6.5" text-anchor="end" fill="#3a3a3a" stroke="#3a3a3a" stroke-width="0.1">30</text>
<text x="40.1" y="598.13" font-size="6.5" text-anchor="end" fill="#3a3a3a" stroke="#3a3a3a" stroke-width="0.1">40</text>
<text x="40.1" y="585.7" font-size="6.5" text-anchor="end" fill="#3a3a3a" stroke="#3a3a3a" stroke-width="0.1">50</text>
<path d="M43.3 645.55H46.5 M43.3 633.12H46.5 M43.3 620.69H46.5 M43.3 608.26H46.5 M43.3 595.83H46.5 M43.3 583.4H46.5 M52.65 645.55v2.8 M65.2 645.55v2.8 M77.75 645.55v2.8 M90.3 645.55v2.8 M102.85 645.55v2.8" stroke="#1a1a1a" stroke-width="0.9" fill="none"/>
<text x="52.65" y="657.65" font-size="6.7" text-anchor="middle" fill="#3a3a3a" stroke="#3a3a3a" stroke-width="0.1">4</text>
<text x="65.2" y="657.65" font-size="6.7" text-anchor="middle" fill="#3a3a3a" stroke="#3a3a3a" stroke-width="0.1">8</text>
<text x="77.75" y="657.65" font-size="6.7" text-anchor="middle" fill="#3a3a3a" stroke="#3a3a3a" stroke-width="0.1">12</text>
<text x="90.3" y="657.65" font-size="6.7" text-anchor="middle" fill="#3a3a3a" stroke="#3a3a3a" stroke-width="0.1">16</text>
<text x="102.85" y="657.65" font-size="6.7" text-anchor="middle" fill="#3a3a3a" stroke="#3a3a3a" stroke-width="0.1">20</text>
<path d="M52.65 641.32V628.15M51.85 628.15h1.6 M65.2 645.05V644.31M64.4 644.31h1.6 M77.75 645.3V644.93M76.95 644.93h1.6 M90.3 645.43V645.18M89.5 645.18h1.6 M102.85 645.55V645.43M102.05 645.43h1.6" stroke="#5a7ea8" stroke-width="0.9" fill="none"/>
<path d="M52.65 638.22V625.16M51.85 625.16h1.6 M65.2 643.44V639.71M64.4 639.71h1.6 M77.75 644.56V643.31M76.95 643.31h1.6 M90.3 645.05V644.31M89.5 644.31h1.6 M102.85 645.43V645.18M102.05 645.18h1.6" stroke="#c9677c" stroke-width="0.9" fill="none"/>
<polyline points="52.65,641.32 65.2,645.05 77.75,645.3 90.3,645.43 102.85,645.55" fill="none" stroke="#2c4462" stroke-width="1.15" stroke-linejoin="round"/>
<circle cx="52.65" cy="641.32" r="0.95" fill="#2c4462"/>
<circle cx="65.2" cy="645.05" r="0.95" fill="#2c4462"/>
<circle cx="77.75" cy="645.3" r="0.95" fill="#2c4462"/>
<circle cx="90.3" cy="645.43" r="0.95" fill="#2c4462"/>
<circle cx="102.85" cy="645.55" r="0.95" fill="#2c4462"/>
<polyline points="52.65,638.22 65.2,643.44 77.75,644.56 90.3,645.05 102.85,645.43" fill="none" stroke="#c21f3e" stroke-width="1.15" stroke-linejoin="round"/>
<circle cx="52.65" cy="638.22" r="0.95" fill="#c21f3e"/>
<circle cx="65.2" cy="643.44" r="0.95" fill="#c21f3e"/>
<circle cx="77.75" cy="644.56" r="0.95" fill="#c21f3e"/>
<circle cx="90.3" cy="645.05" r="0.95" fill="#c21f3e"/>
<circle cx="102.85" cy="645.43" r="0.95" fill="#c21f3e"/>
<path d="M107.6 641.6H109.8V644.6H107.6" fill="none" stroke="#333" stroke-width="0.95"/>
<text x="159.8" y="574.6" font-size="8.3" fill="#333" stroke="#333" stroke-width="0.03" textLength="52" lengthAdjust="spacingAndGlyphs">Myeloid cells</text>
<text transform="translate(135.6,614.07) rotate(-90)" font-size="8.4" text-anchor="middle" fill="#444" stroke="#444" stroke-width="0.05" textLength="58.8" lengthAdjust="spacingAndGlyphs">% of donor-derived</text>
<path d="M154.5 581V645.55H216.85" fill="none" stroke="#1a1a1a" stroke-width="1.1"/>
<text x="148.1" y="647.85" font-size="6.5" text-anchor="end" fill="#3a3a3a" stroke="#3a3a3a" stroke-width="0.1">0</text>
<text x="148.1" y="632.31" font-size="6.5" text-anchor="end" fill="#3a3a3a" stroke="#3a3a3a" stroke-width="0.1">10</text>
<text x="148.1" y="616.77" font-size="6.5" text-anchor="end" fill="#3a3a3a" stroke="#3a3a3a" stroke-width="0.1">20</text>
<text x="148.1" y="601.24" font-size="6.5" text-anchor="end" fill="#3a3a3a" stroke="#3a3a3a" stroke-width="0.1">30</text>
<text x="148.1" y="585.7" font-size="6.5" text-anchor="end" fill="#3a3a3a" stroke="#3a3a3a" stroke-width="0.1">40</text>
<path d="M151.3 645.55H154.5 M151.3 630.01H154.5 M151.3 614.47H154.5 M151.3 598.94H154.5 M151.3 583.4H154.5 M160.65 645.55v2.8 M173.2 645.55v2.8 M185.75 645.55v2.8 M198.3 645.55v2.8 M210.85 645.55v2.8" stroke="#1a1a1a" stroke-width="0.9" fill="none"/>
<text x="160.65" y="657.65" font-size="6.7" text-anchor="middle" fill="#3a3a3a" stroke="#3a3a3a" stroke-width="0.1">4</text>
<text x="173.2" y="657.65" font-size="6.7" text-anchor="middle" fill="#3a3a3a" stroke="#3a3a3a" stroke-width="0.1">8</text>
<text x="185.75" y="657.65" font-size="6.7" text-anchor="middle" fill="#3a3a3a" stroke="#3a3a3a" stroke-width="0.1">12</text>
<text x="198.3" y="657.65" font-size="6.7" text-anchor="middle" fill="#3a3a3a" stroke="#3a3a3a" stroke-width="0.1">16</text>
<text x="210.85" y="657.65" font-size="6.7" text-anchor="middle" fill="#3a3a3a" stroke="#3a3a3a" stroke-width="0.1">20</text>
<path d="M160.65 640.89V625.35M159.85 625.35h1.6" stroke="#5a7ea8" stroke-width="0.9" fill="none"/>
<path d="M160.65 636.23V614.47M159.85 614.47h1.6 M173.2 644.77V644M172.4 644h1.6" stroke="#c9677c" stroke-width="0.9" fill="none"/>
<polyline points="160.65,640.89 173.2,645.55 185.75,645.55 198.3,645.55 210.85,645.55" fill="none" stroke="#2c4462" stroke-width="1.15" stroke-linejoin="round"/>
<circle cx="160.65" cy="640.89" r="0.95" fill="#2c4462"/>
<circle cx="173.2" cy="645.55" r="0.95" fill="#2c4462"/>
<circle cx="185.75" cy="645.55" r="0.95" fill="#2c4462"/>
<circle cx="198.3" cy="645.55" r="0.95" fill="#2c4462"/>
<circle cx="210.85" cy="645.55" r="0.95" fill="#2c4462"/>
<polyline points="160.65,636.23 173.2,644.77 185.75,645.55 198.3,645.55 210.85,645.55" fill="none" stroke="#c21f3e" stroke-width="1.15" stroke-linejoin="round"/>
<circle cx="160.65" cy="636.23" r="0.95" fill="#c21f3e"/>
<circle cx="173.2" cy="644.77" r="0.95" fill="#c21f3e"/>
<circle cx="185.75" cy="645.55" r="0.95" fill="#c21f3e"/>
<circle cx="198.3" cy="645.55" r="0.95" fill="#c21f3e"/>
<circle cx="210.85" cy="645.55" r="0.95" fill="#c21f3e"/>
<text x="281.6" y="574.6" font-size="8.3" fill="#333" stroke="#333" stroke-width="0.03" textLength="25.5" lengthAdjust="spacingAndGlyphs">B cells</text>
<text transform="translate(244.5,614.07) rotate(-90)" font-size="8.4" text-anchor="middle" fill="#444" stroke="#444" stroke-width="0.05" textLength="58.8" lengthAdjust="spacingAndGlyphs">% of donor-derived</text>
<path d="M263.4 581V645.55H325.75" fill="none" stroke="#1a1a1a" stroke-width="1.1"/>
<text x="257" y="647.85" font-size="6.5" text-anchor="end" fill="#3a3a3a" stroke="#3a3a3a" stroke-width="0.1">0</text>
<text x="257" y="635.42" font-size="6.5" text-anchor="end" fill="#3a3a3a" stroke="#3a3a3a" stroke-width="0.1">10</text>
<text x="257" y="622.99" font-size="6.5" text-anchor="end" fill="#3a3a3a" stroke="#3a3a3a" stroke-width="0.1">20</text>
<text x="257" y="610.56" font-size="6.5" text-anchor="end" fill="#3a3a3a" stroke="#3a3a3a" stroke-width="0.1">30</text>
<text x="257" y="598.13" font-size="6.5" text-anchor="end" fill="#3a3a3a" stroke="#3a3a3a" stroke-width="0.1">40</text>
<text x="257" y="585.7" font-size="6.5" text-anchor="end" fill="#3a3a3a" stroke="#3a3a3a" stroke-width="0.1">50</text>
<path d="M260.2 645.55H263.4 M260.2 633.12H263.4 M260.2 620.69H263.4 M260.2 608.26H263.4 M260.2 595.83H263.4 M260.2 583.4H263.4 M269.55 645.55v2.8 M282.1 645.55v2.8 M294.65 645.55v2.8 M307.2 645.55v2.8 M319.75 645.55v2.8" stroke="#1a1a1a" stroke-width="0.9" fill="none"/>
<text x="269.55" y="657.65" font-size="6.7" text-anchor="middle" fill="#3a3a3a" stroke="#3a3a3a" stroke-width="0.1">4</text>
<text x="282.1" y="657.65" font-size="6.7" text-anchor="middle" fill="#3a3a3a" stroke="#3a3a3a" stroke-width="0.1">8</text>
<text x="294.65" y="657.65" font-size="6.7" text-anchor="middle" fill="#3a3a3a" stroke="#3a3a3a" stroke-width="0.1">12</text>
<text x="307.2" y="657.65" font-size="6.7" text-anchor="middle" fill="#3a3a3a" stroke="#3a3a3a" stroke-width="0.1">16</text>
<text x="319.75" y="657.65" font-size="6.7" text-anchor="middle" fill="#3a3a3a" stroke="#3a3a3a" stroke-width="0.1">20</text>
<path d="M269.55 638.46V618.2M268.75 618.2h1.6 M282.1 645.55V644.93M281.3 644.93h1.6" stroke="#5a7ea8" stroke-width="0.9" fill="none"/>
<path d="M269.55 631.75V608.26M268.75 608.26h1.6 M282.1 641.82V635.11M281.3 635.11h1.6 M294.65 643.31V640.58M293.85 640.58h1.6 M307.2 644.43V643.06M306.4 643.06h1.6 M319.75 645.05V644.31M318.95 644.31h1.6" stroke="#c9677c" stroke-width="0.9" fill="none"/>
<polyline points="269.55,638.46 282.1,645.55 294.65,645.55 307.2,645.55 319.75,645.55" fill="none" stroke="#2c4462" stroke-width="1.15" stroke-linejoin="round"/>
<circle cx="269.55" cy="638.46" r="0.95" fill="#2c4462"/>
<circle cx="282.1" cy="645.55" r="0.95" fill="#2c4462"/>
<circle cx="294.65" cy="645.55" r="0.95" fill="#2c4462"/>
<circle cx="307.2" cy="645.55" r="0.95" fill="#2c4462"/>
<circle cx="319.75" cy="645.55" r="0.95" fill="#2c4462"/>
<polyline points="269.55,631.75 282.1,641.82 294.65,643.31 307.2,644.43 319.75,645.05" fill="none" stroke="#c21f3e" stroke-width="1.15" stroke-linejoin="round"/>
<circle cx="269.55" cy="631.75" r="0.95" fill="#c21f3e"/>
<circle cx="282.1" cy="641.82" r="0.95" fill="#c21f3e"/>
<circle cx="294.65" cy="643.31" r="0.95" fill="#c21f3e"/>
<circle cx="307.2" cy="644.43" r="0.95" fill="#c21f3e"/>
<circle cx="319.75" cy="645.05" r="0.95" fill="#c21f3e"/>
<text x="269.95" y="607.93" font-size="5.6" text-anchor="middle" fill="#4a2430" letter-spacing="0.8" stroke="#4a2430" stroke-width="0.2">**</text>
<text x="282.5" y="634.9" font-size="5.6" text-anchor="middle" fill="#4a2430" letter-spacing="0.8" stroke="#4a2430" stroke-width="0.2">**</text>
<text x="295.05" y="640.25" font-size="5.6" text-anchor="middle" fill="#4a2430" letter-spacing="0.8" stroke="#4a2430" stroke-width="0.2">**</text>
<text x="307.6" y="642.23" font-size="5.6" text-anchor="middle" fill="#4a2430" letter-spacing="0.8" stroke="#4a2430" stroke-width="0.2">**</text>
<text x="320.15" y="644.47" font-size="5.6" text-anchor="middle" fill="#4a2430" letter-spacing="0.8" stroke="#4a2430" stroke-width="0.2">***</text>
<path d="M322.7 641.6H324.9V644.6H322.7" fill="none" stroke="#333" stroke-width="0.95"/>
<text transform="translate(326,643.1) rotate(90)" font-size="5.6" text-anchor="middle" fill="#333" letter-spacing="0.8" stroke="#333" stroke-width="0.2">****</text>
<text x="386.4" y="574.6" font-size="8.3" fill="#333" stroke="#333" stroke-width="0.03" textLength="24.9" lengthAdjust="spacingAndGlyphs">T cells</text>
<text transform="translate(348.6,614.07) rotate(-90)" font-size="8.4" text-anchor="middle" fill="#444" stroke="#444" stroke-width="0.05" textLength="58.8" lengthAdjust="spacingAndGlyphs">% of donor-derived</text>
<path d="M367.5 581V645.55H429.85" fill="none" stroke="#1a1a1a" stroke-width="1.1"/>
<text x="361.1" y="647.85" font-size="6.5" text-anchor="end" fill="#3a3a3a" stroke="#3a3a3a" stroke-width="0.1">0</text>
<text x="361.1" y="632.31" font-size="6.5" text-anchor="end" fill="#3a3a3a" stroke="#3a3a3a" stroke-width="0.1">5</text>
<text x="361.1" y="616.77" font-size="6.5" text-anchor="end" fill="#3a3a3a" stroke="#3a3a3a" stroke-width="0.1">10</text>
<text x="361.1" y="601.24" font-size="6.5" text-anchor="end" fill="#3a3a3a" stroke="#3a3a3a" stroke-width="0.1">15</text>
<text x="361.1" y="585.7" font-size="6.5" text-anchor="end" fill="#3a3a3a" stroke="#3a3a3a" stroke-width="0.1">20</text>
<path d="M364.3 645.55H367.5 M364.3 630.01H367.5 M364.3 614.47H367.5 M364.3 598.94H367.5 M364.3 583.4H367.5 M373.65 645.55v2.8 M386.2 645.55v2.8 M398.75 645.55v2.8 M411.3 645.55v2.8 M423.85 645.55v2.8" stroke="#1a1a1a" stroke-width="0.9" fill="none"/>
<text x="373.65" y="657.65" font-size="6.7" text-anchor="middle" fill="#3a3a3a" stroke="#3a3a3a" stroke-width="0.1">4</text>
<text x="386.2" y="657.65" font-size="6.7" text-anchor="middle" fill="#3a3a3a" stroke="#3a3a3a" stroke-width="0.1">8</text>
<text x="398.75" y="657.65" font-size="6.7" text-anchor="middle" fill="#3a3a3a" stroke="#3a3a3a" stroke-width="0.1">12</text>
<text x="411.3" y="657.65" font-size="6.7" text-anchor="middle" fill="#3a3a3a" stroke="#3a3a3a" stroke-width="0.1">16</text>
<text x="423.85" y="657.65" font-size="6.7" text-anchor="middle" fill="#3a3a3a" stroke="#3a3a3a" stroke-width="0.1">20</text>
<path d="M373.65 644.93V644M372.85 644h1.6 M386.2 644.62V642.44M385.4 642.44h1.6 M398.75 644.62V644M397.95 644h1.6 M411.3 644.93V644.62M410.5 644.62h1.6 M423.85 644.93V644.62M423.05 644.62h1.6" stroke="#5a7ea8" stroke-width="0.9" fill="none"/>
<path d="M373.65 645.24V644.62M372.85 644.62h1.6 M386.2 642.44V637.16M385.4 637.16h1.6 M398.75 644.62V644M397.95 644h1.6 M411.3 645.24V644.93M410.5 644.93h1.6" stroke="#c9677c" stroke-width="0.9" fill="none"/>
<polyline points="373.65,644.93 386.2,644.62 398.75,644.62 411.3,644.93 423.85,644.93" fill="none" stroke="#2c4462" stroke-width="1.15" stroke-linejoin="round"/>
<circle cx="373.65" cy="644.93" r="0.95" fill="#2c4462"/>
<circle cx="386.2" cy="644.62" r="0.95" fill="#2c4462"/>
<circle cx="398.75" cy="644.62" r="0.95" fill="#2c4462"/>
<circle cx="411.3" cy="644.93" r="0.95" fill="#2c4462"/>
<circle cx="423.85" cy="644.93" r="0.95" fill="#2c4462"/>
<polyline points="373.65,645.24 386.2,642.44 398.75,644.62 411.3,645.24 423.85,645.55" fill="none" stroke="#c21f3e" stroke-width="1.15" stroke-linejoin="round"/>
<circle cx="373.65" cy="645.24" r="0.95" fill="#c21f3e"/>
<circle cx="386.2" cy="642.44" r="0.95" fill="#c21f3e"/>
<circle cx="398.75" cy="644.62" r="0.95" fill="#c21f3e"/>
<circle cx="411.3" cy="645.24" r="0.95" fill="#c21f3e"/>
<circle cx="423.85" cy="645.55" r="0.95" fill="#c21f3e"/>
<path d="M436.7 610.7h9.6" stroke="#2c4462" stroke-width="1.3"/>
<circle cx="441.5" cy="610.7" r="1.8" fill="#1f3546"/>
<path d="M436.7 621.1h9.6" stroke="#c21f3e" stroke-width="1.3"/>
<rect x="440" y="619.45" width="3.3" height="3.3" fill="#b3122f"/>
<text x="450" y="612.7" font-size="6.9" font-style="italic" fill="#2b2b2b" stroke="#2b2b2b" stroke-width="0.12" textLength="23" lengthAdjust="spacingAndGlyphs">Slc23a2</text>
<text x="473.3" y="609.8" font-size="3.8" font-style="italic" fill="#2b2b2b" stroke="#2b2b2b" stroke-width="0.12" textLength="9.6" lengthAdjust="spacingAndGlyphs">FL/FL</text>
<text x="450" y="622.9" font-size="6.9" font-style="italic" fill="#2b2b2b" stroke="#2b2b2b" stroke-width="0.12" textLength="23" lengthAdjust="spacingAndGlyphs">Slc23a2</text>
<text x="473.3" y="620" font-size="3.8" font-style="italic" fill="#2b2b2b" stroke="#2b2b2b" stroke-width="0.12" textLength="9.6" lengthAdjust="spacingAndGlyphs">FL/FL</text>
<text x="484" y="622.9" font-size="6.9" fill="#2b2b2b" stroke="#2b2b2b" stroke-width="0.12">;</text>
<text x="487.8" y="622.9" font-size="6.9" font-style="italic" fill="#2b2b2b" stroke="#2b2b2b" stroke-width="0.12" textLength="25.8" lengthAdjust="spacingAndGlyphs">Mx1-Cre</text>
<text x="203.6" y="670.9" font-size="9.5" fill="#2b2b2b" textLength="84.8" lengthAdjust="spacingAndGlyphs" stroke="#2b2b2b" stroke-width="0.2">Weeks after transplantation</text>
<text x="111.2" y="645.6" font-size="5.6" fill="#333" stroke="#333" stroke-width="0.2">*</text>
<text x="7.1" y="691.3" font-size="12.6" font-weight="bold" fill="#111" stroke="#111" stroke-width="0.2">H</text>
<rect x="46.4" y="680.9" width="407.5" height="12.9" fill="#c9c9cd"/>
<path d="M46.4 706.55H453.9 M102.3 680.9V719.3 M168.3 680.9V719.3 M198.3 680.9V719.3 M262.8 680.9V719.3 M326.7 680.9V719.3 M390 680.9V719.3" stroke="#2e2e2e" stroke-width="0.9" fill="none"/>
<path d="M46.4 693.8H453.9" stroke="#2e2e2e" stroke-width="1.1" fill="none"/>
<rect x="46.4" y="680.9" width="407.5" height="38.4" fill="none" stroke="#262626" stroke-width="1.1"/>
<text x="74.3" y="689.5" font-size="6.6" text-anchor="middle" font-weight="bold" fill="#1e1e1e" textLength="14.8" lengthAdjust="spacingAndGlyphs" stroke="#1e1e1e" stroke-width="0.05">Cells</text>
<text x="134.9" y="689.5" font-size="6.6" text-anchor="middle" font-weight="bold" fill="#1e1e1e" textLength="31.7" lengthAdjust="spacingAndGlyphs" stroke="#1e1e1e" stroke-width="0.05">Genotype</text>
<text x="182.9" y="689.5" font-size="6.6" text-anchor="middle" font-weight="bold" fill="#1e1e1e" textLength="15" lengthAdjust="spacingAndGlyphs" stroke="#1e1e1e" stroke-width="0.05">Total</text>
<text x="230.3" y="689.5" font-size="6.6" text-anchor="middle" font-weight="bold" fill="#1e1e1e" textLength="49.1" lengthAdjust="spacingAndGlyphs" stroke="#1e1e1e" stroke-width="0.05">Long-term MBT</text>
<text x="294.3" y="689.5" font-size="6.6" text-anchor="middle" font-weight="bold" fill="#1e1e1e" textLength="45.7" lengthAdjust="spacingAndGlyphs" stroke="#1e1e1e" stroke-width="0.05">Transient MBT</text>
<text x="357.8" y="689.5" font-size="6.6" text-anchor="middle" font-weight="bold" fill="#1e1e1e" textLength="38.6" lengthAdjust="spacingAndGlyphs" stroke="#1e1e1e" stroke-width="0.05">Transient BT</text>
<text x="423" y="689.5" font-size="6.6" text-anchor="middle" font-weight="bold" fill="#1e1e1e" textLength="57.1" lengthAdjust="spacingAndGlyphs" stroke="#1e1e1e" stroke-width="0.05">No reconstitution</text>
<text x="74.6" y="702.2" font-size="7.1" font-weight="bold" text-anchor="middle" fill="#1e1e1e" stroke="#1e1e1e" stroke-width="0.05" textLength="51.1" lengthAdjust="spacingAndGlyphs">100 MPP GFP<tspan font-size="5" dy="-2.7">neg</tspan></text>
<text x="118.5" y="702.2" font-size="6.9" font-style="italic" fill="#3a3a3a" stroke="#3a3a3a" stroke-width="0.12" textLength="21.8" lengthAdjust="spacingAndGlyphs">Slc23a2</text>
<text x="140.6" y="699.3" font-size="3.8" font-style="italic" fill="#3a3a3a" stroke="#3a3a3a" stroke-width="0.12" textLength="10.2" lengthAdjust="spacingAndGlyphs">FL/FL</text>
<text x="183.3" y="701.8" font-size="6.6" text-anchor="middle" fill="#3c3c3c" stroke="#3c3c3c" stroke-width="0.12">10</text>
<text x="230.55" y="701.8" font-size="6.6" text-anchor="middle" fill="#3c3c3c" stroke="#3c3c3c" stroke-width="0.12">0 (0%)</text>
<text x="294.75" y="701.8" font-size="6.6" text-anchor="middle" fill="#3c3c3c" stroke="#3c3c3c" stroke-width="0.12">2 (20%)</text>
<text x="358.35" y="701.8" font-size="6.6" text-anchor="middle" fill="#3c3c3c" stroke="#3c3c3c" stroke-width="0.12">3 (30%)</text>
<text x="421.95" y="701.8" font-size="6.6" text-anchor="middle" fill="#3c3c3c" stroke="#3c3c3c" stroke-width="0.12">5 (50%)</text>
<text x="74.6" y="714.95" font-size="7.1" font-weight="bold" text-anchor="middle" fill="#1e1e1e" stroke="#1e1e1e" stroke-width="0.05" textLength="51.1" lengthAdjust="spacingAndGlyphs">100 MPP GFP<tspan font-size="5" dy="-2.7">neg</tspan></text>
<text x="103.9" y="714.95" font-size="6.9" font-style="italic" fill="#3a3a3a" stroke="#3a3a3a" stroke-width="0.12" textLength="21.8" lengthAdjust="spacingAndGlyphs">Slc23a2</text>
<text x="126" y="712.05" font-size="3.8" font-style="italic" fill="#3a3a3a" stroke="#3a3a3a" stroke-width="0.12" textLength="10.2" lengthAdjust="spacingAndGlyphs">FL/FL</text>
<text x="137.2" y="714.95" font-size="6.9" fill="#3a3a3a" stroke="#3a3a3a" stroke-width="0.12">;</text>
<text x="139.4" y="714.95" font-size="6.9" font-style="italic" fill="#3a3a3a" stroke="#3a3a3a" stroke-width="0.12" textLength="26" lengthAdjust="spacingAndGlyphs">Mx1-Cre</text>
<text x="183.3" y="714.55" font-size="6.6" text-anchor="middle" fill="#3c3c3c" stroke="#3c3c3c" stroke-width="0.12">9</text>
<text x="230.55" y="714.55" font-size="6.6" text-anchor="middle" fill="#3c3c3c" stroke="#3c3c3c" stroke-width="0.12">0 (0%)</text>
<text x="294.75" y="714.55" font-size="6.6" text-anchor="middle" fill="#3c3c3c" stroke="#3c3c3c" stroke-width="0.12">6 (67%)</text>
<text x="358.35" y="714.55" font-size="6.6" text-anchor="middle" fill="#3c3c3c" stroke="#3c3c3c" stroke-width="0.12">2 (22%)</text>
<text x="421.95" y="714.55" font-size="6.6" text-anchor="middle" fill="#3c3c3c" stroke="#3c3c3c" stroke-width="0.12">1 (11%)</text>
</svg></body></html>
